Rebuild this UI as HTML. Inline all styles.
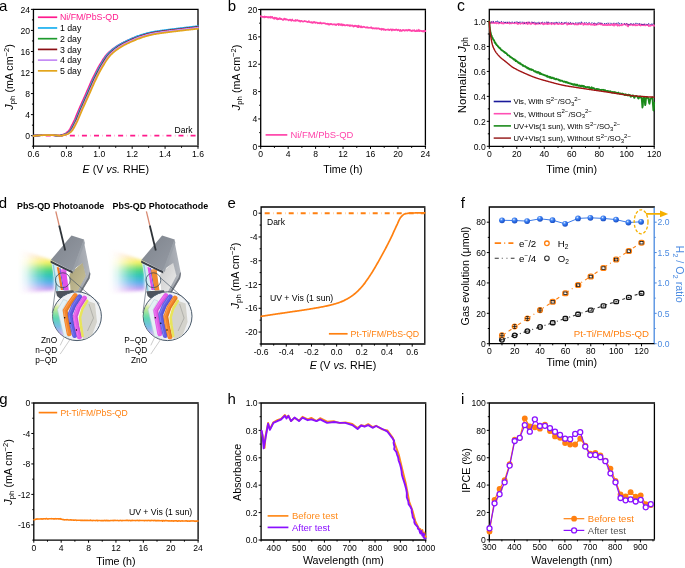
<!DOCTYPE html><html><head><meta charset="utf-8"><style>html,body{margin:0;padding:0;background:#fff;overflow:hidden;}svg{display:block;will-change:transform;}</style></head><body><svg width="685" height="568" viewBox="0 0 685 568"><rect width="685" height="568" fill="#fff"/><text x="-1.0" y="10.9" font-family="Liberation Sans" font-size="15">a</text>
<path d="M32.80 9.37H198.65M33.45 9.37V146.20M32.80 146.20H198.65" stroke="#000" stroke-width="1.3" fill="none"/>
<path d="M198.00 10.02V145.55" stroke="#000" stroke-width="1.3" fill="none"/>
<path d="M33.45 146.20v2.6M66.36 146.20v2.6M99.27 146.20v2.6M132.18 146.20v2.6M165.09 146.20v2.6M198.00 146.20v2.6M49.91 146.20v1.6M82.82 146.20v1.6M115.73 146.20v1.6M148.64 146.20v1.6M181.55 146.20v1.6" stroke="#000" stroke-width="1" fill="none"/>
<text x="33.45" y="156.80" font-family="Liberation Sans" font-size="8.6" text-anchor="middle">0.6</text>
<text x="66.36" y="156.80" font-family="Liberation Sans" font-size="8.6" text-anchor="middle">0.8</text>
<text x="99.27" y="156.80" font-family="Liberation Sans" font-size="8.6" text-anchor="middle">1.0</text>
<text x="132.18" y="156.80" font-family="Liberation Sans" font-size="8.6" text-anchor="middle">1.2</text>
<text x="165.09" y="156.80" font-family="Liberation Sans" font-size="8.6" text-anchor="middle">1.4</text>
<text x="198.00" y="156.80" font-family="Liberation Sans" font-size="8.6" text-anchor="middle">1.6</text>
<path d="M33.45 135.67h-2.5M33.45 114.62h-2.5M33.45 93.57h-2.5M33.45 72.52h-2.5M33.45 51.47h-2.5M33.45 30.42h-2.5M33.45 9.37h-2.5M33.45 146.20h-1.5M33.45 125.15h-1.5M33.45 104.10h-1.5M33.45 83.05h-1.5M33.45 62.00h-1.5M33.45 40.95h-1.5M33.45 19.90h-1.5" stroke="#000" stroke-width="1" fill="none"/>
<text x="29.95" y="138.87" font-family="Liberation Sans" font-size="8.6" text-anchor="end">0</text>
<text x="29.95" y="117.82" font-family="Liberation Sans" font-size="8.6" text-anchor="end">4</text>
<text x="29.95" y="96.77" font-family="Liberation Sans" font-size="8.6" text-anchor="end">8</text>
<text x="29.95" y="75.72" font-family="Liberation Sans" font-size="8.6" text-anchor="end">12</text>
<text x="29.95" y="54.67" font-family="Liberation Sans" font-size="8.6" text-anchor="end">16</text>
<text x="29.95" y="33.62" font-family="Liberation Sans" font-size="8.6" text-anchor="end">20</text>
<text x="29.95" y="12.57" font-family="Liberation Sans" font-size="8.6" text-anchor="end">24</text>
<path d="M34.45 135.67H197.50" stroke="#ff1a8c" stroke-width="1.9" stroke-dasharray="5 3.5 0.3 3.27" stroke-dashoffset="0.8" fill="none"/>
<text x="174.60" y="133.20" font-family="Liberation Sans" font-size="8.5" text-anchor="start" fill="#000" >Dark</text>
<path d="M33.45 135.60 L34.09 135.55 L34.72 135.50 L35.36 135.45 L35.99 135.41 L36.63 135.36 L37.26 135.32 L37.90 135.29 L38.53 135.25 L39.17 135.22 L39.80 135.20 L40.44 135.18 L41.07 135.16 L41.71 135.15 L42.34 135.15 L42.98 135.15 L43.62 135.15 L44.25 135.15 L44.89 135.15 L45.52 135.16 L46.16 135.16 L46.79 135.17 L47.43 135.17 L48.06 135.18 L48.70 135.19 L49.33 135.20 L49.97 135.21 L50.60 135.22 L51.24 135.23 L51.87 135.24 L52.51 135.26 L53.15 135.30 L53.78 135.37 L54.42 135.46 L55.05 135.56 L55.69 135.65 L56.32 135.73 L56.96 135.77 L57.59 135.77 L58.23 135.71 L58.86 135.60 L59.50 135.46 L60.13 135.30 L60.77 135.13 L61.40 134.97 L62.04 134.80 L62.68 134.61 L63.31 134.39 L63.95 134.15 L64.58 133.88 L65.22 133.57 L65.85 133.21 L66.49 132.78 L67.12 132.29 L67.76 131.73 L68.39 131.09 L69.03 130.30 L69.66 129.37 L70.30 128.33 L70.93 127.20 L71.57 126.00 L72.21 124.76 L72.84 123.51 L73.48 122.26 L74.11 120.92 L74.75 119.48 L75.38 117.97 L76.02 116.42 L76.65 114.85 L77.29 113.27 L77.92 111.73 L78.56 110.24 L79.19 108.78 L79.83 107.34 L80.46 105.91 L81.10 104.49 L81.73 103.07 L82.37 101.66 L83.01 100.24 L83.64 98.83 L84.28 97.42 L84.91 95.99 L85.55 94.57 L86.18 93.13 L86.82 91.67 L87.45 90.20 L88.09 88.72 L88.72 87.24 L89.36 85.77 L89.99 84.31 L90.63 82.86 L91.26 81.45 L91.90 80.06 L92.54 78.71 L93.17 77.40 L93.81 76.09 L94.44 74.81 L95.08 73.53 L95.71 72.28 L96.35 71.05 L96.98 69.84 L97.62 68.66 L98.25 67.51 L98.89 66.39 L99.52 65.30 L100.16 64.23 L100.79 63.17 L101.43 62.11 L102.07 61.08 L102.70 60.06 L103.34 59.07 L103.97 58.12 L104.61 57.21 L105.24 56.34 L105.88 55.53 L106.51 54.78 L107.15 54.08 L107.78 53.42 L108.42 52.79 L109.05 52.19 L109.69 51.61 L110.32 51.06 L110.96 50.53 L111.60 50.01 L112.23 49.51 L112.87 49.02 L113.50 48.54 L114.14 48.07 L114.77 47.60 L115.41 47.16 L116.04 46.72 L116.68 46.30 L117.31 45.89 L117.95 45.50 L118.58 45.12 L119.22 44.75 L119.85 44.38 L120.49 44.03 L121.13 43.69 L121.76 43.35 L122.40 43.02 L123.03 42.70 L123.67 42.38 L124.30 42.07 L124.94 41.77 L125.57 41.47 L126.21 41.17 L126.84 40.88 L127.48 40.59 L128.11 40.30 L128.75 40.02 L129.38 39.74 L130.02 39.45 L130.66 39.18 L131.29 38.90 L131.93 38.63 L132.56 38.36 L133.20 38.09 L133.83 37.83 L134.47 37.57 L135.10 37.32 L135.74 37.07 L136.37 36.83 L137.01 36.59 L137.64 36.37 L138.28 36.14 L138.91 35.93 L139.55 35.72 L140.19 35.52 L140.82 35.33 L141.46 35.13 L142.09 34.94 L142.73 34.75 L143.36 34.57 L144.00 34.39 L144.63 34.21 L145.27 34.04 L145.90 33.88 L146.54 33.72 L147.17 33.56 L147.81 33.41 L148.44 33.26 L149.08 33.12 L149.72 32.98 L150.35 32.85 L150.99 32.73 L151.62 32.61 L152.26 32.50 L152.89 32.38 L153.53 32.28 L154.16 32.17 L154.80 32.07 L155.43 31.97 L156.07 31.87 L156.70 31.78 L157.34 31.69 L157.97 31.59 L158.61 31.50 L159.24 31.42 L159.88 31.33 L160.52 31.24 L161.15 31.15 L161.79 31.07 L162.42 30.98 L163.06 30.89 L163.69 30.81 L164.33 30.72 L164.96 30.64 L165.60 30.56 L166.23 30.48 L166.87 30.40 L167.50 30.32 L168.14 30.24 L168.77 30.16 L169.41 30.09 L170.05 30.01 L170.68 29.93 L171.32 29.86 L171.95 29.78 L172.59 29.71 L173.22 29.63 L173.86 29.55 L174.49 29.47 L175.13 29.40 L175.76 29.32 L176.40 29.24 L177.03 29.17 L177.67 29.09 L178.30 29.02 L178.94 28.94 L179.58 28.86 L180.21 28.79 L180.85 28.71 L181.48 28.64 L182.12 28.56 L182.75 28.49 L183.39 28.41 L184.02 28.34 L184.66 28.27 L185.29 28.19 L185.93 28.12 L186.56 28.04 L187.20 27.97 L187.83 27.90 L188.47 27.82 L189.11 27.75 L189.74 27.68 L190.38 27.60 L191.01 27.53 L191.65 27.46 L192.28 27.38 L192.92 27.31 L193.55 27.24 L194.19 27.17 L194.82 27.09 L195.46 27.02 L196.09 26.95 L196.73 26.88 L197.36 26.81 L198.00 26.73" stroke="#ff1a8c" stroke-width="1.7" fill="none" stroke-linejoin="round" stroke-linecap="round" />
<path d="M33.45 135.72 L34.09 135.66 L34.72 135.61 L35.36 135.56 L35.99 135.50 L36.63 135.46 L37.26 135.41 L37.90 135.36 L38.53 135.32 L39.17 135.29 L39.80 135.25 L40.44 135.22 L41.07 135.20 L41.71 135.17 L42.34 135.16 L42.98 135.15 L43.62 135.14 L44.25 135.14 L44.89 135.14 L45.52 135.15 L46.16 135.15 L46.79 135.15 L47.43 135.16 L48.06 135.16 L48.70 135.17 L49.33 135.18 L49.97 135.18 L50.60 135.19 L51.24 135.20 L51.87 135.21 L52.51 135.22 L53.15 135.24 L53.78 135.25 L54.42 135.29 L55.05 135.36 L55.69 135.45 L56.32 135.55 L56.96 135.65 L57.59 135.72 L58.23 135.77 L58.86 135.78 L59.50 135.72 L60.13 135.61 L60.77 135.47 L61.40 135.30 L62.04 135.14 L62.68 134.98 L63.31 134.81 L63.95 134.62 L64.58 134.40 L65.22 134.16 L65.85 133.89 L66.49 133.58 L67.12 133.22 L67.76 132.79 L68.39 132.30 L69.03 131.75 L69.66 131.11 L70.30 130.32 L70.93 129.40 L71.57 128.36 L72.21 127.22 L72.84 126.02 L73.48 124.78 L74.11 123.52 L74.75 122.26 L75.38 120.91 L76.02 119.47 L76.65 117.96 L77.29 116.40 L77.92 114.81 L78.56 113.23 L79.19 111.67 L79.83 110.17 L80.46 108.70 L81.10 107.25 L81.73 105.81 L82.37 104.37 L83.01 102.95 L83.64 101.52 L84.28 100.10 L84.91 98.68 L85.55 97.25 L86.18 95.82 L86.82 94.39 L87.45 92.94 L88.09 91.47 L88.72 89.99 L89.36 88.50 L89.99 87.01 L90.63 85.52 L91.26 84.05 L91.90 82.60 L92.54 81.17 L93.17 79.77 L93.81 78.41 L94.44 77.09 L95.08 75.77 L95.71 74.47 L96.35 73.19 L96.98 71.93 L97.62 70.69 L98.25 69.47 L98.89 68.28 L99.52 67.12 L100.16 65.98 L100.79 64.89 L101.43 63.81 L102.07 62.74 L102.70 61.68 L103.34 60.63 L103.97 59.61 L104.61 58.61 L105.24 57.65 L105.88 56.73 L106.51 55.85 L107.15 55.03 L107.78 54.27 L108.42 53.56 L109.05 52.89 L109.69 52.26 L110.32 51.65 L110.96 51.07 L111.60 50.51 L112.23 49.97 L112.87 49.45 L113.50 48.95 L114.14 48.45 L114.77 47.97 L115.41 47.49 L116.04 47.02 L116.68 46.57 L117.31 46.13 L117.95 45.71 L118.58 45.30 L119.22 44.90 L119.85 44.51 L120.49 44.14 L121.13 43.77 L121.76 43.42 L122.40 43.07 L123.03 42.73 L123.67 42.40 L124.30 42.07 L124.94 41.76 L125.57 41.44 L126.21 41.13 L126.84 40.83 L127.48 40.53 L128.11 40.24 L128.75 39.95 L129.38 39.66 L130.02 39.37 L130.66 39.09 L131.29 38.80 L131.93 38.52 L132.56 38.25 L133.20 37.97 L133.83 37.70 L134.47 37.43 L135.10 37.16 L135.74 36.91 L136.37 36.65 L137.01 36.40 L137.64 36.16 L138.28 35.92 L138.91 35.69 L139.55 35.47 L140.19 35.25 L140.82 35.04 L141.46 34.84 L142.09 34.64 L142.73 34.44 L143.36 34.25 L144.00 34.06 L144.63 33.88 L145.27 33.70 L145.90 33.52 L146.54 33.35 L147.17 33.18 L147.81 33.02 L148.44 32.86 L149.08 32.71 L149.72 32.56 L150.35 32.42 L150.99 32.28 L151.62 32.15 L152.26 32.02 L152.89 31.90 L153.53 31.79 L154.16 31.67 L154.80 31.56 L155.43 31.46 L156.07 31.35 L156.70 31.25 L157.34 31.16 L157.97 31.06 L158.61 30.97 L159.24 30.88 L159.88 30.79 L160.52 30.70 L161.15 30.61 L161.79 30.52 L162.42 30.43 L163.06 30.34 L163.69 30.26 L164.33 30.17 L164.96 30.08 L165.60 30.00 L166.23 29.91 L166.87 29.83 L167.50 29.75 L168.14 29.67 L168.77 29.59 L169.41 29.51 L170.05 29.44 L170.68 29.36 L171.32 29.28 L171.95 29.20 L172.59 29.13 L173.22 29.05 L173.86 28.97 L174.49 28.90 L175.13 28.82 L175.76 28.74 L176.40 28.66 L177.03 28.59 L177.67 28.51 L178.30 28.43 L178.94 28.35 L179.58 28.28 L180.21 28.20 L180.85 28.13 L181.48 28.05 L182.12 27.97 L182.75 27.90 L183.39 27.82 L184.02 27.75 L184.66 27.67 L185.29 27.60 L185.93 27.52 L186.56 27.45 L187.20 27.37 L187.83 27.30 L188.47 27.22 L189.11 27.15 L189.74 27.08 L190.38 27.00 L191.01 26.93 L191.65 26.85 L192.28 26.78 L192.92 26.71 L193.55 26.63 L194.19 26.56 L194.82 26.49 L195.46 26.41 L196.09 26.34 L196.73 26.27 L197.36 26.20 L198.00 26.12" stroke="#1ab0f0" stroke-width="1.7" fill="none" stroke-linejoin="round" stroke-linecap="round" />
<path d="M33.45 135.77 L34.09 135.72 L34.72 135.66 L35.36 135.61 L35.99 135.56 L36.63 135.51 L37.26 135.46 L37.90 135.41 L38.53 135.37 L39.17 135.33 L39.80 135.29 L40.44 135.26 L41.07 135.23 L41.71 135.20 L42.34 135.18 L42.98 135.16 L43.62 135.15 L44.25 135.15 L44.89 135.15 L45.52 135.15 L46.16 135.15 L46.79 135.15 L47.43 135.16 L48.06 135.16 L48.70 135.17 L49.33 135.17 L49.97 135.18 L50.60 135.19 L51.24 135.20 L51.87 135.21 L52.51 135.22 L53.15 135.23 L53.78 135.24 L54.42 135.26 L55.05 135.29 L55.69 135.36 L56.32 135.45 L56.96 135.55 L57.59 135.64 L58.23 135.72 L58.86 135.77 L59.50 135.78 L60.13 135.72 L60.77 135.62 L61.40 135.47 L62.04 135.31 L62.68 135.15 L63.31 135.00 L63.95 134.82 L64.58 134.64 L65.22 134.42 L65.85 134.19 L66.49 133.92 L67.12 133.62 L67.76 133.26 L68.39 132.84 L69.03 132.36 L69.66 131.81 L70.30 131.19 L70.93 130.42 L71.57 129.51 L72.21 128.48 L72.84 127.36 L73.48 126.18 L74.11 124.95 L74.75 123.71 L75.38 122.46 L76.02 121.14 L76.65 119.72 L77.29 118.23 L77.92 116.68 L78.56 115.12 L79.19 113.55 L79.83 112.01 L80.46 110.52 L81.10 109.07 L81.73 107.64 L82.37 106.21 L83.01 104.80 L83.64 103.39 L84.28 101.98 L84.91 100.57 L85.55 99.17 L86.18 97.76 L86.82 96.35 L87.45 94.93 L88.09 93.49 L88.72 92.04 L89.36 90.58 L89.99 89.11 L90.63 87.64 L91.26 86.17 L91.90 84.72 L92.54 83.28 L93.17 81.87 L93.81 80.48 L94.44 79.14 L95.08 77.83 L95.71 76.53 L96.35 75.25 L96.98 73.98 L97.62 72.73 L98.25 71.50 L98.89 70.30 L99.52 69.12 L100.16 67.97 L100.79 66.85 L101.43 65.76 L102.07 64.70 L102.70 63.64 L103.34 62.59 L103.97 61.56 L104.61 60.54 L105.24 59.56 L105.88 58.61 L106.51 57.69 L107.15 56.83 L107.78 56.01 L108.42 55.26 L109.05 54.56 L109.69 53.90 L110.32 53.27 L110.96 52.67 L111.60 52.09 L112.23 51.54 L112.87 51.01 L113.50 50.50 L114.14 50.00 L114.77 49.51 L115.41 49.03 L116.04 48.55 L116.68 48.09 L117.31 47.64 L117.95 47.21 L118.58 46.79 L119.22 46.38 L119.85 45.99 L120.49 45.61 L121.13 45.24 L121.76 44.88 L122.40 44.53 L123.03 44.18 L123.67 43.85 L124.30 43.52 L124.94 43.20 L125.57 42.88 L126.21 42.57 L126.84 42.27 L127.48 41.97 L128.11 41.67 L128.75 41.38 L129.38 41.09 L130.02 40.81 L130.66 40.53 L131.29 40.24 L131.93 39.96 L132.56 39.69 L133.20 39.41 L133.83 39.14 L134.47 38.87 L135.10 38.60 L135.74 38.34 L136.37 38.09 L137.01 37.83 L137.64 37.59 L138.28 37.35 L138.91 37.11 L139.55 36.88 L140.19 36.66 L140.82 36.45 L141.46 36.24 L142.09 36.04 L142.73 35.85 L143.36 35.65 L144.00 35.46 L144.63 35.28 L145.27 35.09 L145.90 34.91 L146.54 34.74 L147.17 34.57 L147.81 34.40 L148.44 34.24 L149.08 34.08 L149.72 33.93 L150.35 33.79 L150.99 33.64 L151.62 33.51 L152.26 33.38 L152.89 33.26 L153.53 33.14 L154.16 33.02 L154.80 32.91 L155.43 32.80 L156.07 32.70 L156.70 32.60 L157.34 32.50 L157.97 32.40 L158.61 32.31 L159.24 32.21 L159.88 32.12 L160.52 32.03 L161.15 31.94 L161.79 31.86 L162.42 31.77 L163.06 31.68 L163.69 31.60 L164.33 31.51 L164.96 31.42 L165.60 31.34 L166.23 31.25 L166.87 31.17 L167.50 31.09 L168.14 31.01 L168.77 30.93 L169.41 30.85 L170.05 30.78 L170.68 30.70 L171.32 30.62 L171.95 30.55 L172.59 30.47 L173.22 30.39 L173.86 30.32 L174.49 30.24 L175.13 30.16 L175.76 30.09 L176.40 30.01 L177.03 29.93 L177.67 29.86 L178.30 29.78 L178.94 29.71 L179.58 29.63 L180.21 29.55 L180.85 29.48 L181.48 29.40 L182.12 29.33 L182.75 29.25 L183.39 29.18 L184.02 29.11 L184.66 29.03 L185.29 28.96 L185.93 28.88 L186.56 28.81 L187.20 28.73 L187.83 28.66 L188.47 28.59 L189.11 28.51 L189.74 28.44 L190.38 28.37 L191.01 28.29 L191.65 28.22 L192.28 28.15 L192.92 28.08 L193.55 28.00 L194.19 27.93 L194.82 27.86 L195.46 27.79 L196.09 27.71 L196.73 27.64 L197.36 27.57 L198.00 27.50" stroke="#1e9a2e" stroke-width="1.7" fill="none" stroke-linejoin="round" stroke-linecap="round" />
<path d="M33.45 135.80 L34.09 135.75 L34.72 135.69 L35.36 135.64 L35.99 135.59 L36.63 135.53 L37.26 135.48 L37.90 135.44 L38.53 135.39 L39.17 135.35 L39.80 135.31 L40.44 135.27 L41.07 135.24 L41.71 135.21 L42.34 135.19 L42.98 135.17 L43.62 135.16 L44.25 135.15 L44.89 135.15 L45.52 135.15 L46.16 135.15 L46.79 135.15 L47.43 135.15 L48.06 135.16 L48.70 135.16 L49.33 135.17 L49.97 135.17 L50.60 135.18 L51.24 135.19 L51.87 135.20 L52.51 135.21 L53.15 135.22 L53.78 135.23 L54.42 135.25 L55.05 135.27 L55.69 135.32 L56.32 135.40 L56.96 135.50 L57.59 135.60 L58.23 135.68 L58.86 135.75 L59.50 135.78 L60.13 135.76 L60.77 135.68 L61.40 135.55 L62.04 135.40 L62.68 135.23 L63.31 135.07 L63.95 134.91 L64.58 134.73 L65.22 134.53 L65.85 134.31 L66.49 134.06 L67.12 133.77 L67.76 133.44 L68.39 133.05 L69.03 132.60 L69.66 132.09 L70.30 131.51 L70.93 130.81 L71.57 129.97 L72.21 128.99 L72.84 127.91 L73.48 126.76 L74.11 125.54 L74.75 124.30 L75.38 123.04 L76.02 121.77 L76.65 120.39 L77.29 118.92 L77.92 117.40 L78.56 115.83 L79.19 114.26 L79.83 112.69 L80.46 111.16 L81.10 109.69 L81.73 108.24 L82.37 106.81 L83.01 105.38 L83.64 103.96 L84.28 102.54 L84.91 101.13 L85.55 99.72 L86.18 98.30 L86.82 96.88 L87.45 95.46 L88.09 94.03 L88.72 92.58 L89.36 91.12 L89.99 89.64 L90.63 88.16 L91.26 86.69 L91.90 85.22 L92.54 83.76 L93.17 82.33 L93.81 80.92 L94.44 79.55 L95.08 78.22 L95.71 76.91 L96.35 75.61 L96.98 74.33 L97.62 73.06 L98.25 71.82 L98.89 70.60 L99.52 69.40 L100.16 68.23 L100.79 67.09 L101.43 65.98 L102.07 64.90 L102.70 63.83 L103.34 62.77 L103.97 61.72 L104.61 60.69 L105.24 59.69 L105.88 58.71 L106.51 57.77 L107.15 56.88 L107.78 56.03 L108.42 55.24 L109.05 54.51 L109.69 53.83 L110.32 53.18 L110.96 52.56 L111.60 51.97 L112.23 51.40 L112.87 50.86 L113.50 50.33 L114.14 49.83 L114.77 49.33 L115.41 48.84 L116.04 48.36 L116.68 47.89 L117.31 47.43 L117.95 46.99 L118.58 46.56 L119.22 46.15 L119.85 45.74 L120.49 45.35 L121.13 44.98 L121.76 44.61 L122.40 44.25 L123.03 43.90 L123.67 43.56 L124.30 43.23 L124.94 42.90 L125.57 42.58 L126.21 42.27 L126.84 41.96 L127.48 41.65 L128.11 41.35 L128.75 41.06 L129.38 40.77 L130.02 40.48 L130.66 40.20 L131.29 39.91 L131.93 39.63 L132.56 39.35 L133.20 39.07 L133.83 38.80 L134.47 38.52 L135.10 38.26 L135.74 37.99 L136.37 37.73 L137.01 37.47 L137.64 37.22 L138.28 36.98 L138.91 36.74 L139.55 36.51 L140.19 36.28 L140.82 36.06 L141.46 35.85 L142.09 35.65 L142.73 35.45 L143.36 35.25 L144.00 35.06 L144.63 34.87 L145.27 34.68 L145.90 34.50 L146.54 34.32 L147.17 34.15 L147.81 33.98 L148.44 33.82 L149.08 33.66 L149.72 33.50 L150.35 33.35 L150.99 33.21 L151.62 33.07 L152.26 32.93 L152.89 32.81 L153.53 32.69 L154.16 32.57 L154.80 32.45 L155.43 32.34 L156.07 32.24 L156.70 32.13 L157.34 32.03 L157.97 31.93 L158.61 31.84 L159.24 31.74 L159.88 31.65 L160.52 31.56 L161.15 31.47 L161.79 31.38 L162.42 31.30 L163.06 31.21 L163.69 31.12 L164.33 31.03 L164.96 30.95 L165.60 30.86 L166.23 30.78 L166.87 30.69 L167.50 30.61 L168.14 30.53 L168.77 30.45 L169.41 30.37 L170.05 30.29 L170.68 30.21 L171.32 30.14 L171.95 30.06 L172.59 29.98 L173.22 29.91 L173.86 29.83 L174.49 29.75 L175.13 29.68 L175.76 29.60 L176.40 29.52 L177.03 29.45 L177.67 29.37 L178.30 29.29 L178.94 29.22 L179.58 29.14 L180.21 29.06 L180.85 28.99 L181.48 28.91 L182.12 28.84 L182.75 28.76 L183.39 28.69 L184.02 28.61 L184.66 28.54 L185.29 28.46 L185.93 28.39 L186.56 28.31 L187.20 28.24 L187.83 28.16 L188.47 28.09 L189.11 28.02 L189.74 27.94 L190.38 27.87 L191.01 27.79 L191.65 27.72 L192.28 27.65 L192.92 27.57 L193.55 27.50 L194.19 27.43 L194.82 27.36 L195.46 27.28 L196.09 27.21 L196.73 27.14 L197.36 27.07 L198.00 26.99" stroke="#8b0f14" stroke-width="1.7" fill="none" stroke-linejoin="round" stroke-linecap="round" />
<path d="M33.45 135.83 L34.09 135.78 L34.72 135.72 L35.36 135.67 L35.99 135.61 L36.63 135.56 L37.26 135.51 L37.90 135.46 L38.53 135.41 L39.17 135.37 L39.80 135.33 L40.44 135.29 L41.07 135.26 L41.71 135.23 L42.34 135.20 L42.98 135.18 L43.62 135.16 L44.25 135.15 L44.89 135.15 L45.52 135.15 L46.16 135.15 L46.79 135.15 L47.43 135.15 L48.06 135.16 L48.70 135.16 L49.33 135.17 L49.97 135.17 L50.60 135.18 L51.24 135.19 L51.87 135.20 L52.51 135.21 L53.15 135.22 L53.78 135.23 L54.42 135.24 L55.05 135.25 L55.69 135.29 L56.32 135.36 L56.96 135.45 L57.59 135.55 L58.23 135.64 L58.86 135.72 L59.50 135.77 L60.13 135.78 L60.77 135.72 L61.40 135.62 L62.04 135.48 L62.68 135.32 L63.31 135.16 L63.95 135.00 L64.58 134.83 L65.22 134.64 L65.85 134.43 L66.49 134.20 L67.12 133.93 L67.76 133.63 L68.39 133.28 L69.03 132.86 L69.66 132.38 L70.30 131.83 L70.93 131.21 L71.57 130.45 L72.21 129.54 L72.84 128.52 L73.48 127.41 L74.11 126.22 L74.75 125.00 L75.38 123.75 L76.02 122.51 L76.65 121.19 L77.29 119.77 L77.92 118.28 L78.56 116.74 L79.19 115.18 L79.83 113.61 L80.46 112.07 L81.10 110.57 L81.73 109.13 L82.37 107.69 L83.01 106.27 L83.64 104.85 L84.28 103.44 L84.91 102.03 L85.55 100.62 L86.18 99.22 L86.82 97.81 L87.45 96.40 L88.09 94.98 L88.72 93.55 L89.36 92.10 L89.99 90.63 L90.63 89.16 L91.26 87.69 L91.90 86.22 L92.54 84.77 L93.17 83.33 L93.81 81.92 L94.44 80.53 L95.08 79.19 L95.71 77.87 L96.35 76.58 L96.98 75.29 L97.62 74.02 L98.25 72.77 L98.89 71.55 L99.52 70.34 L100.16 69.16 L100.79 68.01 L101.43 66.89 L102.07 65.80 L102.70 64.74 L103.34 63.68 L103.97 62.63 L104.61 61.59 L105.24 60.58 L105.88 59.59 L106.51 58.64 L107.15 57.73 L107.78 56.86 L108.42 56.04 L109.05 55.28 L109.69 54.58 L110.32 53.92 L110.96 53.29 L111.60 52.69 L112.23 52.11 L112.87 51.56 L113.50 51.03 L114.14 50.51 L114.77 50.01 L115.41 49.52 L116.04 49.04 L116.68 48.57 L117.31 48.11 L117.95 47.66 L118.58 47.23 L119.22 46.80 L119.85 46.40 L120.49 46.00 L121.13 45.62 L121.76 45.25 L122.40 44.89 L123.03 44.54 L123.67 44.19 L124.30 43.86 L124.94 43.53 L125.57 43.21 L126.21 42.89 L126.84 42.58 L127.48 42.28 L128.11 41.98 L128.75 41.68 L129.38 41.39 L130.02 41.10 L130.66 40.82 L131.29 40.54 L131.93 40.25 L132.56 39.97 L133.20 39.70 L133.83 39.42 L134.47 39.15 L135.10 38.88 L135.74 38.61 L136.37 38.35 L137.01 38.09 L137.64 37.84 L138.28 37.60 L138.91 37.36 L139.55 37.12 L140.19 36.89 L140.82 36.67 L141.46 36.46 L142.09 36.25 L142.73 36.05 L143.36 35.85 L144.00 35.66 L144.63 35.47 L145.27 35.28 L145.90 35.10 L146.54 34.92 L147.17 34.74 L147.81 34.57 L148.44 34.41 L149.08 34.25 L149.72 34.09 L150.35 33.94 L150.99 33.79 L151.62 33.65 L152.26 33.51 L152.89 33.38 L153.53 33.26 L154.16 33.14 L154.80 33.03 L155.43 32.91 L156.07 32.81 L156.70 32.70 L157.34 32.60 L157.97 32.50 L158.61 32.40 L159.24 32.31 L159.88 32.22 L160.52 32.13 L161.15 32.04 L161.79 31.95 L162.42 31.86 L163.06 31.77 L163.69 31.69 L164.33 31.60 L164.96 31.51 L165.60 31.43 L166.23 31.34 L166.87 31.26 L167.50 31.17 L168.14 31.09 L168.77 31.01 L169.41 30.93 L170.05 30.86 L170.68 30.78 L171.32 30.70 L171.95 30.62 L172.59 30.55 L173.22 30.47 L173.86 30.40 L174.49 30.32 L175.13 30.24 L175.76 30.17 L176.40 30.09 L177.03 30.01 L177.67 29.94 L178.30 29.86 L178.94 29.78 L179.58 29.71 L180.21 29.63 L180.85 29.56 L181.48 29.48 L182.12 29.41 L182.75 29.33 L183.39 29.26 L184.02 29.18 L184.66 29.11 L185.29 29.03 L185.93 28.96 L186.56 28.88 L187.20 28.81 L187.83 28.74 L188.47 28.66 L189.11 28.59 L189.74 28.52 L190.38 28.44 L191.01 28.37 L191.65 28.30 L192.28 28.22 L192.92 28.15 L193.55 28.08 L194.19 28.01 L194.82 27.93 L195.46 27.86 L196.09 27.79 L196.73 27.72 L197.36 27.64 L198.00 27.57" stroke="#c58cf5" stroke-width="1.7" fill="none" stroke-linejoin="round" stroke-linecap="round" />
<path d="M33.45 135.89 L34.09 135.83 L34.72 135.78 L35.36 135.72 L35.99 135.67 L36.63 135.62 L37.26 135.56 L37.90 135.51 L38.53 135.47 L39.17 135.42 L39.80 135.38 L40.44 135.33 L41.07 135.30 L41.71 135.26 L42.34 135.23 L42.98 135.21 L43.62 135.19 L44.25 135.17 L44.89 135.16 L45.52 135.15 L46.16 135.15 L46.79 135.15 L47.43 135.16 L48.06 135.16 L48.70 135.16 L49.33 135.17 L49.97 135.17 L50.60 135.18 L51.24 135.19 L51.87 135.19 L52.51 135.20 L53.15 135.21 L53.78 135.22 L54.42 135.23 L55.05 135.25 L55.69 135.26 L56.32 135.29 L56.96 135.36 L57.59 135.45 L58.23 135.55 L58.86 135.64 L59.50 135.72 L60.13 135.77 L60.77 135.78 L61.40 135.73 L62.04 135.62 L62.68 135.49 L63.31 135.33 L63.95 135.17 L64.58 135.01 L65.22 134.85 L65.85 134.66 L66.49 134.45 L67.12 134.22 L67.76 133.96 L68.39 133.67 L69.03 133.31 L69.66 132.90 L70.30 132.43 L70.93 131.89 L71.57 131.28 L72.21 130.53 L72.84 129.64 L73.48 128.63 L74.11 127.53 L74.75 126.36 L75.38 125.15 L76.02 123.92 L76.65 122.68 L77.29 121.38 L77.92 119.98 L78.56 118.51 L79.19 116.99 L79.83 115.44 L80.46 113.89 L81.10 112.36 L81.73 110.88 L82.37 109.44 L83.01 108.02 L83.64 106.61 L84.28 105.21 L84.91 103.81 L85.55 102.42 L86.18 101.02 L86.82 99.63 L87.45 98.24 L88.09 96.84 L88.72 95.43 L89.36 94.02 L89.99 92.58 L90.63 91.14 L91.26 89.68 L91.90 88.22 L92.54 86.77 L93.17 85.33 L93.81 83.91 L94.44 82.51 L95.08 81.13 L95.71 79.80 L96.35 78.50 L96.98 77.21 L97.62 75.94 L98.25 74.69 L98.89 73.45 L99.52 72.23 L100.16 71.04 L100.79 69.87 L101.43 68.73 L102.07 67.62 L102.70 66.54 L103.34 65.49 L103.97 64.44 L104.61 63.40 L105.24 62.37 L105.88 61.37 L106.51 60.39 L107.15 59.44 L107.78 58.54 L108.42 57.68 L109.05 56.87 L109.69 56.11 L110.32 55.42 L110.96 54.76 L111.60 54.13 L112.23 53.54 L112.87 52.97 L113.50 52.42 L114.14 51.89 L114.77 51.38 L115.41 50.89 L116.04 50.40 L116.68 49.93 L117.31 49.46 L117.95 49.00 L118.58 48.56 L119.22 48.12 L119.85 47.71 L120.49 47.30 L121.13 46.91 L121.76 46.53 L122.40 46.17 L123.03 45.81 L123.67 45.46 L124.30 45.12 L124.94 44.79 L125.57 44.46 L126.21 44.14 L126.84 43.83 L127.48 43.52 L128.11 43.22 L128.75 42.92 L129.38 42.63 L130.02 42.34 L130.66 42.06 L131.29 41.78 L131.93 41.50 L132.56 41.22 L133.20 40.94 L133.83 40.67 L134.47 40.39 L135.10 40.12 L135.74 39.86 L136.37 39.59 L137.01 39.33 L137.64 39.08 L138.28 38.83 L138.91 38.59 L139.55 38.35 L140.19 38.11 L140.82 37.89 L141.46 37.67 L142.09 37.46 L142.73 37.25 L143.36 37.05 L144.00 36.86 L144.63 36.67 L145.27 36.48 L145.90 36.29 L146.54 36.11 L147.17 35.93 L147.81 35.76 L148.44 35.59 L149.08 35.43 L149.72 35.27 L150.35 35.11 L150.99 34.96 L151.62 34.81 L152.26 34.67 L152.89 34.54 L153.53 34.41 L154.16 34.29 L154.80 34.17 L155.43 34.06 L156.07 33.95 L156.70 33.84 L157.34 33.73 L157.97 33.63 L158.61 33.54 L159.24 33.44 L159.88 33.35 L160.52 33.25 L161.15 33.16 L161.79 33.08 L162.42 32.99 L163.06 32.90 L163.69 32.81 L164.33 32.73 L164.96 32.64 L165.60 32.56 L166.23 32.47 L166.87 32.39 L167.50 32.30 L168.14 32.22 L168.77 32.14 L169.41 32.06 L170.05 31.98 L170.68 31.91 L171.32 31.83 L171.95 31.75 L172.59 31.68 L173.22 31.60 L173.86 31.53 L174.49 31.45 L175.13 31.38 L175.76 31.30 L176.40 31.23 L177.03 31.15 L177.67 31.07 L178.30 31.00 L178.94 30.92 L179.58 30.85 L180.21 30.77 L180.85 30.70 L181.48 30.62 L182.12 30.55 L182.75 30.47 L183.39 30.40 L184.02 30.32 L184.66 30.25 L185.29 30.18 L185.93 30.10 L186.56 30.03 L187.20 29.96 L187.83 29.88 L188.47 29.81 L189.11 29.74 L189.74 29.66 L190.38 29.59 L191.01 29.52 L191.65 29.45 L192.28 29.37 L192.92 29.30 L193.55 29.23 L194.19 29.16 L194.82 29.08 L195.46 29.01 L196.09 28.94 L196.73 28.87 L197.36 28.80 L198.00 28.73" stroke="#e3a51c" stroke-width="1.7" fill="none" stroke-linejoin="round" stroke-linecap="round" />
<path d="M37.9 17.25H57.2" stroke="#ff1a8c" stroke-width="1.7"/>
<text x="59.90" y="20.35" font-family="Liberation Sans" font-size="8.8" text-anchor="start" fill="#ff1a8c" >Ni/FM/PbS-QD</text>
<path d="M37.9 27.97H57.2" stroke="#1ab0f0" stroke-width="1.7"/>
<text x="59.90" y="31.07" font-family="Liberation Sans" font-size="8.8" text-anchor="start" fill="#000" >1 day</text>
<path d="M37.9 38.69H57.2" stroke="#1e9a2e" stroke-width="1.7"/>
<text x="59.90" y="41.79" font-family="Liberation Sans" font-size="8.8" text-anchor="start" fill="#000" >2 day</text>
<path d="M37.9 49.41H57.2" stroke="#8b0f14" stroke-width="1.7"/>
<text x="59.90" y="52.51" font-family="Liberation Sans" font-size="8.8" text-anchor="start" fill="#000" >3 day</text>
<path d="M37.9 60.13H57.2" stroke="#c58cf5" stroke-width="1.7"/>
<text x="59.90" y="63.23" font-family="Liberation Sans" font-size="8.8" text-anchor="start" fill="#000" >4 day</text>
<path d="M37.9 70.85H57.2" stroke="#e3a51c" stroke-width="1.7"/>
<text x="59.90" y="73.95" font-family="Liberation Sans" font-size="8.8" text-anchor="start" fill="#000" >5 day</text>
<text x="115.80" y="172.80" font-family="Liberation Sans" font-size="10.7" text-anchor="middle" fill="#000" ><tspan font-style="italic">E</tspan> (V <tspan font-style="italic">vs.</tspan> RHE)</text>
<text transform="translate(12.60 77.00) rotate(-90)" x="0" y="0" font-family="Liberation Sans" font-size="10.7" text-anchor="middle" fill="#000"><tspan font-style="italic">J</tspan><tspan font-size="7.8" dx="0.2" dy="2.1">ph</tspan><tspan dy="-2.1"> (mA cm</tspan><tspan font-size="7.6" dy="-4">−2</tspan><tspan dy="4">)</tspan></text>
<text x="227.7" y="11.2" font-family="Liberation Sans" font-size="15">b</text>
<path d="M260.05 9.50H426.05M260.70 9.50V146.30M260.05 146.30H426.05" stroke="#000" stroke-width="1.3" fill="none"/>
<path d="M425.40 10.15V145.65" stroke="#000" stroke-width="1.3" fill="none"/>
<path d="M260.70 146.30v2.6M288.15 146.30v2.6M315.60 146.30v2.6M343.05 146.30v2.6M370.50 146.30v2.6M397.95 146.30v2.6M425.40 146.30v2.6M274.43 146.30v1.6M301.88 146.30v1.6M329.32 146.30v1.6M356.77 146.30v1.6M384.22 146.30v1.6M411.67 146.30v1.6" stroke="#000" stroke-width="1" fill="none"/>
<text x="260.70" y="156.90" font-family="Liberation Sans" font-size="8.6" text-anchor="middle">0</text>
<text x="288.15" y="156.90" font-family="Liberation Sans" font-size="8.6" text-anchor="middle">4</text>
<text x="315.60" y="156.90" font-family="Liberation Sans" font-size="8.6" text-anchor="middle">8</text>
<text x="343.05" y="156.90" font-family="Liberation Sans" font-size="8.6" text-anchor="middle">12</text>
<text x="370.50" y="156.90" font-family="Liberation Sans" font-size="8.6" text-anchor="middle">16</text>
<text x="397.95" y="156.90" font-family="Liberation Sans" font-size="8.6" text-anchor="middle">20</text>
<text x="425.40" y="156.90" font-family="Liberation Sans" font-size="8.6" text-anchor="middle">24</text>
<path d="M260.70 146.30h-2.5M260.70 118.94h-2.5M260.70 91.58h-2.5M260.70 64.22h-2.5M260.70 36.86h-2.5M260.70 9.50h-2.5M260.70 132.62h-1.5M260.70 105.26h-1.5M260.70 77.90h-1.5M260.70 50.54h-1.5M260.70 23.18h-1.5" stroke="#000" stroke-width="1" fill="none"/>
<text x="257.20" y="149.50" font-family="Liberation Sans" font-size="8.6" text-anchor="end">0</text>
<text x="257.20" y="122.14" font-family="Liberation Sans" font-size="8.6" text-anchor="end">4</text>
<text x="257.20" y="94.78" font-family="Liberation Sans" font-size="8.6" text-anchor="end">8</text>
<text x="257.20" y="67.42" font-family="Liberation Sans" font-size="8.6" text-anchor="end">12</text>
<text x="257.20" y="40.06" font-family="Liberation Sans" font-size="8.6" text-anchor="end">16</text>
<text x="257.20" y="12.70" font-family="Liberation Sans" font-size="8.6" text-anchor="end">20</text>
<path d="M260.70 15.99 L261.20 16.88 L261.70 16.69 L262.20 16.55 L262.70 17.06 L263.20 16.76 L263.70 16.78 L264.20 17.53 L264.70 16.42 L265.21 16.62 L265.71 17.16 L266.21 17.00 L266.71 16.76 L267.21 17.11 L267.71 17.13 L268.21 17.67 L268.71 16.89 L269.21 17.12 L269.71 17.12 L270.21 17.92 L270.71 16.69 L271.21 17.37 L271.71 17.67 L272.21 16.76 L272.71 17.69 L273.22 18.35 L273.72 18.01 L274.22 18.87 L274.72 17.59 L275.22 18.28 L275.72 18.50 L276.22 17.85 L276.72 19.05 L277.22 18.24 L277.72 19.39 L278.22 18.90 L278.72 19.21 L279.22 18.19 L279.72 18.14 L280.22 19.07 L280.72 18.66 L281.22 19.14 L281.73 18.89 L282.23 19.49 L282.73 19.94 L283.23 20.04 L283.73 19.19 L284.23 18.48 L284.73 19.34 L285.23 19.72 L285.73 18.77 L286.23 19.51 L286.73 19.61 L287.23 19.60 L287.73 19.80 L288.23 19.92 L288.73 20.43 L289.23 19.68 L289.74 19.97 L290.24 19.49 L290.74 20.18 L291.24 20.86 L291.74 20.16 L292.24 19.47 L292.74 20.38 L293.24 20.63 L293.74 20.81 L294.24 20.80 L294.74 20.54 L295.24 20.95 L295.74 19.91 L296.24 20.69 L296.74 20.58 L297.24 20.09 L297.74 20.12 L298.25 20.88 L298.75 20.71 L299.25 20.60 L299.75 21.03 L300.25 21.74 L300.75 20.80 L301.25 20.75 L301.75 21.01 L302.25 21.61 L302.75 21.37 L303.25 21.59 L303.75 21.53 L304.25 20.93 L304.75 20.89 L305.25 21.30 L305.75 21.41 L306.26 21.42 L306.76 21.76 L307.26 21.84 L307.76 22.14 L308.26 21.94 L308.76 21.05 L309.26 21.68 L309.76 22.23 L310.26 22.34 L310.76 22.56 L311.26 22.10 L311.76 22.15 L312.26 22.96 L312.76 22.22 L313.26 22.71 L313.76 21.94 L314.27 22.52 L314.77 21.93 L315.27 22.87 L315.77 22.86 L316.27 22.66 L316.77 22.40 L317.27 22.65 L317.77 23.44 L318.27 22.91 L318.77 23.02 L319.27 23.25 L319.77 23.39 L320.27 22.45 L320.77 23.37 L321.27 23.60 L321.77 23.04 L322.27 23.29 L322.78 23.41 L323.28 23.10 L323.78 23.26 L324.28 23.35 L324.78 23.14 L325.28 23.46 L325.78 23.87 L326.28 23.80 L326.78 23.90 L327.28 23.64 L327.78 24.21 L328.28 24.55 L328.78 23.80 L329.28 24.42 L329.78 24.71 L330.28 23.79 L330.79 24.27 L331.29 23.81 L331.79 24.26 L332.29 24.54 L332.79 24.62 L333.29 24.36 L333.79 24.30 L334.29 24.56 L334.79 24.37 L335.29 24.92 L335.79 24.32 L336.29 25.10 L336.79 24.48 L337.29 24.15 L337.79 24.02 L338.29 23.81 L338.79 25.19 L339.30 24.27 L339.80 24.13 L340.30 24.26 L340.80 25.08 L341.30 24.57 L341.80 24.02 L342.30 25.44 L342.80 24.67 L343.30 24.46 L343.80 25.24 L344.30 24.76 L344.80 25.48 L345.30 25.42 L345.80 25.47 L346.30 25.10 L346.80 25.27 L347.31 24.88 L347.81 25.71 L348.31 25.42 L348.81 25.02 L349.31 25.24 L349.81 26.06 L350.31 25.29 L350.81 25.81 L351.31 25.51 L351.81 25.59 L352.31 25.27 L352.81 25.77 L353.31 26.63 L353.81 26.48 L354.31 25.67 L354.81 26.13 L355.31 25.61 L355.82 26.02 L356.32 26.49 L356.82 25.79 L357.32 26.62 L357.82 27.18 L358.32 25.55 L358.82 27.23 L359.32 26.24 L359.82 26.17 L360.32 26.55 L360.82 27.36 L361.32 26.31 L361.82 27.37 L362.32 27.39 L362.82 27.05 L363.32 26.63 L363.83 26.89 L364.33 26.74 L364.83 27.32 L365.33 27.27 L365.83 27.73 L366.33 27.45 L366.83 27.14 L367.33 27.57 L367.83 27.31 L368.33 27.81 L368.83 27.88 L369.33 27.68 L369.83 27.84 L370.33 27.58 L370.83 27.81 L371.33 27.23 L371.83 28.10 L372.34 28.16 L372.84 28.56 L373.34 28.18 L373.84 27.97 L374.34 28.61 L374.84 28.39 L375.34 28.13 L375.84 28.54 L376.34 28.75 L376.84 28.20 L377.34 28.61 L377.84 28.54 L378.34 28.28 L378.84 28.35 L379.34 29.02 L379.84 29.15 L380.35 28.88 L380.85 29.11 L381.35 29.89 L381.85 28.64 L382.35 29.21 L382.85 28.97 L383.35 29.81 L383.85 28.85 L384.35 29.67 L384.85 29.52 L385.35 30.10 L385.85 29.63 L386.35 29.69 L386.85 29.71 L387.35 29.48 L387.85 29.66 L388.36 29.31 L388.86 29.93 L389.36 30.16 L389.86 29.78 L390.36 29.53 L390.86 29.30 L391.36 29.49 L391.86 30.56 L392.36 29.70 L392.86 29.27 L393.36 29.86 L393.86 30.11 L394.36 29.78 L394.86 30.13 L395.36 29.68 L395.86 29.96 L396.36 29.40 L396.87 29.78 L397.37 30.30 L397.87 29.77 L398.37 29.65 L398.87 30.29 L399.37 30.25 L399.87 31.04 L400.37 29.74 L400.87 30.37 L401.37 31.02 L401.87 30.90 L402.37 30.28 L402.87 29.90 L403.37 30.27 L403.87 30.06 L404.37 30.73 L404.88 30.84 L405.38 29.95 L405.88 30.13 L406.38 30.37 L406.88 29.85 L407.38 30.79 L407.88 30.59 L408.38 30.02 L408.88 29.70 L409.38 30.48 L409.88 29.81 L410.38 30.77 L410.88 30.40 L411.38 30.63 L411.88 31.23 L412.38 30.49 L412.88 30.23 L413.39 30.69 L413.89 30.68 L414.39 30.10 L414.89 31.20 L415.39 31.32 L415.89 30.99 L416.39 31.23 L416.89 30.20 L417.39 30.65 L417.89 31.15 L418.39 31.06 L418.89 29.65 L419.39 31.09 L419.89 31.17 L420.39 30.75 L420.89 30.63 L421.40 30.82 L421.90 31.30 L422.40 31.42 L422.90 30.72 L423.40 31.00 L423.90 31.67 L424.40 30.53 L424.90 30.71 L425.40 31.14" stroke="#ff44aa" stroke-width="1.6" fill="none" stroke-linejoin="round" stroke-linecap="round" />
<path d="M265.6 134.9H287.3" stroke="#ff44aa" stroke-width="1.7"/>
<text x="290.40" y="138.20" font-family="Liberation Sans" font-size="9.45" text-anchor="start" fill="#ff44aa" >Ni/FM/PbS-QD</text>
<text x="343.00" y="172.80" font-family="Liberation Sans" font-size="10.7" text-anchor="middle" fill="#000" >Time (h)</text>
<text transform="translate(240.00 77.50) rotate(-90)" x="0" y="0" font-family="Liberation Sans" font-size="10.7" text-anchor="middle" fill="#000"><tspan font-style="italic">J</tspan><tspan font-size="7.8" dx="0.2" dy="2.1">ph</tspan><tspan dy="-2.1"> (mA cm</tspan><tspan font-size="7.6" dy="-4">−2</tspan><tspan dy="4">)</tspan></text>
<text x="457.0" y="10.9" font-family="Liberation Sans" font-size="15.8">c</text>
<path d="M488.65 9.50H654.85M489.30 9.50V146.30M488.65 146.30H654.85" stroke="#000" stroke-width="1.3" fill="none"/>
<path d="M654.20 10.15V145.65" stroke="#000" stroke-width="1.3" fill="none"/>
<path d="M489.30 146.30v2.6M516.78 146.30v2.6M544.27 146.30v2.6M571.75 146.30v2.6M599.23 146.30v2.6M626.72 146.30v2.6M654.20 146.30v2.6M503.04 146.30v1.6M530.52 146.30v1.6M558.01 146.30v1.6M585.49 146.30v1.6M612.98 146.30v1.6M640.46 146.30v1.6" stroke="#000" stroke-width="1" fill="none"/>
<text x="489.30" y="156.90" font-family="Liberation Sans" font-size="8.6" text-anchor="middle">0</text>
<text x="516.78" y="156.90" font-family="Liberation Sans" font-size="8.6" text-anchor="middle">20</text>
<text x="544.27" y="156.90" font-family="Liberation Sans" font-size="8.6" text-anchor="middle">40</text>
<text x="571.75" y="156.90" font-family="Liberation Sans" font-size="8.6" text-anchor="middle">60</text>
<text x="599.23" y="156.90" font-family="Liberation Sans" font-size="8.6" text-anchor="middle">80</text>
<text x="626.72" y="156.90" font-family="Liberation Sans" font-size="8.6" text-anchor="middle">100</text>
<text x="654.20" y="156.90" font-family="Liberation Sans" font-size="8.6" text-anchor="middle">120</text>
<path d="M489.30 146.30h-2.5M489.30 121.34h-2.5M489.30 96.38h-2.5M489.30 71.42h-2.5M489.30 46.46h-2.5M489.30 21.51h-2.5M489.30 133.82h-1.5M489.30 108.86h-1.5M489.30 83.90h-1.5M489.30 58.94h-1.5M489.30 33.98h-1.5" stroke="#000" stroke-width="1" fill="none"/>
<text x="485.80" y="149.50" font-family="Liberation Sans" font-size="8.6" text-anchor="end">0.0</text>
<text x="485.80" y="124.54" font-family="Liberation Sans" font-size="8.6" text-anchor="end">0.2</text>
<text x="485.80" y="99.58" font-family="Liberation Sans" font-size="8.6" text-anchor="end">0.4</text>
<text x="485.80" y="74.62" font-family="Liberation Sans" font-size="8.6" text-anchor="end">0.6</text>
<text x="485.80" y="49.66" font-family="Liberation Sans" font-size="8.6" text-anchor="end">0.8</text>
<text x="485.80" y="24.71" font-family="Liberation Sans" font-size="8.6" text-anchor="end">1.0</text>
<path d="M489.30 21.69 L489.69 22.68 L490.09 22.90 L490.48 23.31 L490.87 23.28 L491.27 22.04 L491.66 22.92 L492.05 23.06 L492.45 23.06 L492.84 22.02 L493.24 23.11 L493.63 22.51 L494.02 22.69 L494.42 22.71 L494.81 23.27 L495.20 22.51 L495.60 22.05 L495.99 22.88 L496.38 23.32 L496.78 23.51 L497.17 22.78 L497.56 23.01 L497.96 22.94 L498.35 22.88 L498.75 23.63 L499.14 22.51 L499.53 22.79 L499.93 22.95 L500.32 22.80 L500.71 22.46 L501.11 22.91 L501.50 23.36 L501.89 22.36 L502.29 23.17 L502.68 23.32 L503.07 23.74 L503.47 22.96 L503.86 23.50 L504.26 23.24 L504.65 22.76 L505.04 22.97 L505.44 22.49 L505.83 22.85 L506.22 23.21 L506.62 23.18 L507.01 23.27 L507.40 22.70 L507.80 23.02 L508.19 23.24 L508.58 22.62 L508.98 23.00 L509.37 23.29 L509.76 23.82 L510.16 22.85 L510.55 22.96 L510.95 23.06 L511.34 23.30 L511.73 23.51 L512.13 23.21 L512.52 22.99 L512.91 23.17 L513.31 23.19 L513.70 23.36 L514.09 22.96 L514.49 23.02 L514.88 23.52 L515.27 22.77 L515.67 22.76 L516.06 22.75 L516.46 23.23 L516.85 23.27 L517.24 23.75 L517.64 22.81 L518.03 24.25 L518.42 23.39 L518.82 23.37 L519.21 22.78 L519.60 23.21 L520.00 23.70 L520.39 23.94 L520.78 23.59 L521.18 23.18 L521.57 23.21 L521.97 23.35 L522.36 23.60 L522.75 23.36 L523.15 22.77 L523.54 23.82 L523.93 23.26 L524.33 22.48 L524.72 23.01 L525.11 23.52 L525.51 22.97 L525.90 23.68 L526.29 23.31 L526.69 22.54 L527.08 22.38 L527.47 24.18 L527.87 22.99 L528.26 22.37 L528.66 23.62 L529.05 23.23 L529.44 22.61 L529.84 23.61 L530.23 23.15 L530.62 23.41 L531.02 24.35 L531.41 23.22 L531.80 23.49 L532.20 22.94 L532.59 22.36 L532.98 23.07 L533.38 23.60 L533.77 23.20 L534.17 23.33 L534.56 22.93 L534.95 24.16 L535.35 24.03 L535.74 24.48 L536.13 23.16 L536.53 23.48 L536.92 23.79 L537.31 23.84 L537.71 23.77 L538.10 23.95 L538.49 23.66 L538.89 23.75 L539.28 22.82 L539.68 23.35 L540.07 23.93 L540.46 23.82 L540.86 22.94 L541.25 23.31 L541.64 23.40 L542.04 23.19 L542.43 22.77 L542.82 24.17 L543.22 23.94 L543.61 24.44 L544.00 23.33 L544.40 23.78 L544.79 23.93 L545.18 23.98 L545.58 23.26 L545.97 23.68 L546.37 23.88 L546.76 23.00 L547.15 24.15 L547.55 24.27 L547.94 22.35 L548.33 23.83 L548.73 23.92 L549.12 24.02 L549.51 23.73 L549.91 23.28 L550.30 23.30 L550.69 23.41 L551.09 23.83 L551.48 24.44 L551.88 23.56 L552.27 22.95 L552.66 23.18 L553.06 23.80 L553.45 23.32 L553.84 23.92 L554.24 23.76 L554.63 24.36 L555.02 23.91 L555.42 23.68 L555.81 23.84 L556.20 23.38 L556.60 22.83 L556.99 23.12 L557.39 23.94 L557.78 24.15 L558.17 24.12 L558.57 24.29 L558.96 23.79 L559.35 23.60 L559.75 23.73 L560.14 23.73 L560.53 23.75 L560.93 23.90 L561.32 24.21 L561.71 22.99 L562.11 23.33 L562.50 24.31 L562.89 24.32 L563.29 24.17 L563.68 23.86 L564.08 23.26 L564.47 23.38 L564.86 23.36 L565.26 23.36 L565.65 23.36 L566.04 23.55 L566.44 23.69 L566.83 23.99 L567.22 24.80 L567.62 24.00 L568.01 23.05 L568.40 24.22 L568.80 24.27 L569.19 23.45 L569.59 23.93 L569.98 24.21 L570.37 23.20 L570.77 23.67 L571.16 23.61 L571.55 24.28 L571.95 23.76 L572.34 23.82 L572.73 23.63 L573.13 23.45 L573.52 23.47 L573.91 23.95 L574.31 23.70 L574.70 24.62 L575.10 23.73 L575.49 23.72 L575.88 24.26 L576.28 24.46 L576.67 24.10 L577.06 24.69 L577.46 23.92 L577.85 23.95 L578.24 24.57 L578.64 24.08 L579.03 23.58 L579.42 23.59 L579.82 23.62 L580.21 24.20 L580.61 24.30 L581.00 24.34 L581.39 23.85 L581.79 22.98 L582.18 23.46 L582.57 23.37 L582.97 23.50 L583.36 24.98 L583.75 24.28 L584.15 24.40 L584.54 23.57 L584.93 23.36 L585.33 24.54 L585.72 24.19 L586.11 23.94 L586.51 24.47 L586.90 24.54 L587.30 24.57 L587.69 23.80 L588.08 24.70 L588.48 23.69 L588.87 24.22 L589.26 23.89 L589.66 23.50 L590.05 24.61 L590.44 24.69 L590.84 24.08 L591.23 24.81 L591.62 24.67 L592.02 24.36 L592.41 24.24 L592.81 24.94 L593.20 24.52 L593.59 24.04 L593.99 23.67 L594.38 25.32 L594.77 23.70 L595.17 23.92 L595.56 24.90 L595.95 25.10 L596.35 24.17 L596.74 24.59 L597.13 24.32 L597.53 23.96 L597.92 24.58 L598.32 24.32 L598.71 24.17 L599.10 23.97 L599.50 23.54 L599.89 23.58 L600.28 24.31 L600.68 24.56 L601.07 23.27 L601.46 24.13 L601.86 24.24 L602.25 25.01 L602.64 24.08 L603.04 24.86 L603.43 24.71 L603.82 25.15 L604.22 24.75 L604.61 24.47 L605.01 25.25 L605.40 24.95 L605.79 24.55 L606.19 25.15 L606.58 25.15 L606.97 24.95 L607.37 25.24 L607.76 24.24 L608.15 25.05 L608.55 24.18 L608.94 24.10 L609.33 25.17 L609.73 24.56 L610.12 24.82 L610.52 25.15 L610.91 24.76 L611.30 24.72 L611.70 24.25 L612.09 24.10 L612.48 25.16 L612.88 24.83 L613.27 24.37 L613.66 24.05 L614.06 25.86 L614.45 24.01 L614.84 24.74 L615.24 23.90 L615.63 24.88 L616.03 25.08 L616.42 24.65 L616.81 24.10 L617.21 24.67 L617.60 25.87 L617.99 24.36 L618.39 25.51 L618.78 25.20 L619.17 25.30 L619.57 25.64 L619.96 25.36 L620.35 25.23 L620.75 25.05 L621.14 24.78 L621.53 24.92 L621.93 25.50 L622.32 24.86 L622.72 24.29 L623.11 24.31 L623.50 24.72 L623.90 24.48 L624.29 24.35 L624.68 24.12 L625.08 23.96 L625.47 24.97 L625.86 24.96 L626.26 24.09 L626.65 24.05 L627.04 24.07 L627.44 26.01 L627.83 24.96 L628.23 26.48 L628.62 24.50 L629.01 24.84 L629.41 24.85 L629.80 24.95 L630.19 24.24 L630.59 25.04 L630.98 24.38 L631.37 24.63 L631.77 24.73 L632.16 24.68 L632.55 24.87 L632.95 25.47 L633.34 24.58 L633.74 24.58 L634.13 25.02 L634.52 24.59 L634.92 24.51 L635.31 25.60 L635.70 25.04 L636.10 25.20 L636.49 25.43 L636.88 24.83 L637.28 25.41 L637.67 25.22 L638.06 24.88 L638.46 24.84 L638.85 24.86 L639.24 23.91 L639.64 25.28 L640.03 24.91 L640.43 25.64 L640.82 24.81 L641.21 24.48 L641.61 24.45 L642.00 25.38 L642.39 25.21 L642.79 24.45 L643.18 25.13 L643.57 24.61 L643.97 25.58 L644.36 24.41 L644.75 24.59 L645.15 24.88 L645.54 25.52 L645.94 25.20 L646.33 25.05 L646.72 25.00 L647.12 25.19 L647.51 25.26 L647.90 25.06 L648.30 24.46 L648.69 26.17 L649.08 25.86 L649.48 25.95 L649.87 25.53 L650.26 26.06 L650.66 24.92 L651.05 25.15 L651.45 25.33 L651.84 25.55 L652.23 25.14 L652.63 25.14 L653.02 25.07 L653.41 25.60 L653.81 24.92 L654.20 25.98" stroke="#ff4fb4" stroke-width="1.5" fill="none" stroke-linejoin="round" stroke-linecap="round" />
<path d="M489.30 21.88 L489.69 21.64 L490.09 22.11 L490.48 22.44 L490.87 21.62 L491.27 22.50 L491.66 21.59 L492.05 22.51 L492.45 21.85 L492.84 21.87 L493.24 20.92 L493.63 22.35 L494.02 22.53 L494.42 22.15 L494.81 22.39 L495.20 22.13 L495.60 21.63 L495.99 21.46 L496.38 21.02 L496.78 22.22 L497.17 20.54 L497.56 20.88 L497.96 21.97 L498.35 23.02 L498.75 21.92 L499.14 21.85 L499.53 23.04 L499.93 21.86 L500.32 22.00 L500.71 22.30 L501.11 21.60 L501.50 21.42 L501.89 22.17 L502.29 21.82 L502.68 22.26 L503.07 22.34 L503.47 21.91 L503.86 21.69 L504.26 22.24 L504.65 23.07 L505.04 21.68 L505.44 22.77 L505.83 21.92 L506.22 21.10 L506.62 22.00 L507.01 22.59 L507.40 22.73 L507.80 21.42 L508.19 22.02 L508.58 21.75 L508.98 21.56 L509.37 22.05 L509.76 22.19 L510.16 22.51 L510.55 23.58 L510.95 22.81 L511.34 22.09 L511.73 22.15 L512.13 21.86 L512.52 22.13 L512.91 22.00 L513.31 21.69 L513.70 22.53 L514.09 22.24 L514.49 22.90 L514.88 21.62 L515.27 22.09 L515.67 21.87 L516.06 21.35 L516.46 21.59 L516.85 22.16 L517.24 21.74 L517.64 22.86 L518.03 21.93 L518.42 22.08 L518.82 22.96 L519.21 21.49 L519.60 22.52 L520.00 21.83 L520.39 22.39 L520.78 21.69 L521.18 21.53 L521.57 22.61 L521.97 22.96 L522.36 22.27 L522.75 21.79 L523.15 22.40 L523.54 22.53 L523.93 21.98 L524.33 23.61 L524.72 22.57 L525.11 22.93 L525.51 22.10 L525.90 22.62 L526.29 22.82 L526.69 22.44 L527.08 23.00 L527.47 22.28 L527.87 22.62 L528.26 22.47 L528.66 22.65 L529.05 21.84 L529.44 22.36 L529.84 22.05 L530.23 22.07 L530.62 22.72 L531.02 22.04 L531.41 22.15 L531.80 22.18 L532.20 22.54 L532.59 22.56 L532.98 21.96 L533.38 21.27 L533.77 22.78 L534.17 22.10 L534.56 22.55 L534.95 21.98 L535.35 22.16 L535.74 21.86 L536.13 23.79 L536.53 22.70 L536.92 22.90 L537.31 22.46 L537.71 22.78 L538.10 22.74 L538.49 22.08 L538.89 21.48 L539.28 23.85 L539.68 22.60 L540.07 22.29 L540.46 22.45 L540.86 22.63 L541.25 23.14 L541.64 22.94 L542.04 22.11 L542.43 21.94 L542.82 22.44 L543.22 22.91 L543.61 22.45 L544.00 22.62 L544.40 22.23 L544.79 22.45 L545.18 22.83 L545.58 22.43 L545.97 23.12 L546.37 22.12 L546.76 21.95 L547.15 23.13 L547.55 22.34 L547.94 23.05 L548.33 22.02 L548.73 22.11 L549.12 22.68 L549.51 22.08 L549.91 22.80 L550.30 22.91 L550.69 22.88 L551.09 22.67 L551.48 22.76 L551.88 22.53 L552.27 22.92 L552.66 22.24 L553.06 22.11 L553.45 22.88 L553.84 23.35 L554.24 22.28 L554.63 22.08 L555.02 22.73 L555.42 23.30 L555.81 22.53 L556.20 21.91 L556.60 23.61 L556.99 22.44 L557.39 22.84 L557.78 23.11 L558.17 22.44 L558.57 23.35 L558.96 22.56 L559.35 22.05 L559.75 22.63 L560.14 23.16 L560.53 23.61 L560.93 23.37 L561.32 23.66 L561.71 21.94 L562.11 22.87 L562.50 23.27 L562.89 23.41 L563.29 23.30 L563.68 22.94 L564.08 23.41 L564.47 21.94 L564.86 23.16 L565.26 23.18 L565.65 22.64 L566.04 22.08 L566.44 22.14 L566.83 23.05 L567.22 22.69 L567.62 22.75 L568.01 22.56 L568.40 22.70 L568.80 23.31 L569.19 23.47 L569.59 22.76 L569.98 23.44 L570.37 22.18 L570.77 22.84 L571.16 23.38 L571.55 23.04 L571.95 23.13 L572.34 22.95 L572.73 22.42 L573.13 23.62 L573.52 23.83 L573.91 22.74 L574.31 23.00 L574.70 22.84 L575.10 22.70 L575.49 23.02 L575.88 22.54 L576.28 23.39 L576.67 22.91 L577.06 23.37 L577.46 23.52 L577.85 22.65 L578.24 22.68 L578.64 23.94 L579.03 23.54 L579.42 22.84 L579.82 22.45 L580.21 23.33 L580.61 23.09 L581.00 23.71 L581.39 21.76 L581.79 22.78 L582.18 22.57 L582.57 22.70 L582.97 22.56 L583.36 22.73 L583.75 23.21 L584.15 22.68 L584.54 23.01 L584.93 22.41 L585.33 23.43 L585.72 23.34 L586.11 22.74 L586.51 22.44 L586.90 23.01 L587.30 23.45 L587.69 23.15 L588.08 23.35 L588.48 22.16 L588.87 22.66 L589.26 22.49 L589.66 22.97 L590.05 23.40 L590.44 22.55 L590.84 22.31 L591.23 22.85 L591.62 23.16 L592.02 22.61 L592.41 23.34 L592.81 22.78 L593.20 23.53 L593.59 23.66 L593.99 22.90 L594.38 23.02 L594.77 22.24 L595.17 23.34 L595.56 23.19 L595.95 23.78 L596.35 24.15 L596.74 24.11 L597.13 22.99 L597.53 23.82 L597.92 22.67 L598.32 22.53 L598.71 23.39 L599.10 22.42 L599.50 23.14 L599.89 22.70 L600.28 23.38 L600.68 22.79 L601.07 23.75 L601.46 22.97 L601.86 23.52 L602.25 23.36 L602.64 22.98 L603.04 23.22 L603.43 23.35 L603.82 22.95 L604.22 22.92 L604.61 24.02 L605.01 23.05 L605.40 23.00 L605.79 23.72 L606.19 23.15 L606.58 24.01 L606.97 22.64 L607.37 23.48 L607.76 23.41 L608.15 22.78 L608.55 23.45 L608.94 23.09 L609.33 23.91 L609.73 23.68 L610.12 24.10 L610.52 23.51 L610.91 22.90 L611.30 23.31 L611.70 22.98 L612.09 23.94 L612.48 23.87 L612.88 23.67 L613.27 23.16 L613.66 23.27 L614.06 23.46 L614.45 23.15 L614.84 23.54 L615.24 23.48 L615.63 22.82 L616.03 23.77 L616.42 23.40 L616.81 22.69 L617.21 23.45 L617.60 23.15 L617.99 23.81 L618.39 22.54 L618.78 24.64 L619.17 24.09 L619.57 24.06 L619.96 22.73 L620.35 23.36 L620.75 23.68 L621.14 24.19 L621.53 23.37 L621.93 23.50 L622.32 23.91 L622.72 24.32 L623.11 24.13 L623.50 23.48 L623.90 23.43 L624.29 23.56 L624.68 23.67 L625.08 24.49 L625.47 23.59 L625.86 24.13 L626.26 23.60 L626.65 23.39 L627.04 23.97 L627.44 24.15 L627.83 23.15 L628.23 23.47 L628.62 23.97 L629.01 25.16 L629.41 23.69 L629.80 23.35 L630.19 23.11 L630.59 24.02 L630.98 24.01 L631.37 23.91 L631.77 23.28 L632.16 24.29 L632.55 23.76 L632.95 24.17 L633.34 23.58 L633.74 24.50 L634.13 23.54 L634.52 23.98 L634.92 23.85 L635.31 23.48 L635.70 23.18 L636.10 24.60 L636.49 23.26 L636.88 23.49 L637.28 23.92 L637.67 23.08 L638.06 23.69 L638.46 23.14 L638.85 24.09 L639.24 24.23 L639.64 23.19 L640.03 22.73 L640.43 23.50 L640.82 23.37 L641.21 24.06 L641.61 24.49 L642.00 23.95 L642.39 23.09 L642.79 24.77 L643.18 24.10 L643.57 24.81 L643.97 23.81 L644.36 23.43 L644.75 24.49 L645.15 24.08 L645.54 23.22 L645.94 23.93 L646.33 24.51 L646.72 24.56 L647.12 24.91 L647.51 23.52 L647.90 24.29 L648.30 23.40 L648.69 23.49 L649.08 24.26 L649.48 24.20 L649.87 23.55 L650.26 23.87 L650.66 23.82 L651.05 24.78 L651.45 23.52 L651.84 24.41 L652.23 25.11 L652.63 24.29 L653.02 23.77 L653.41 22.94 L653.81 24.18 L654.20 24.66" stroke="#1a1a9a" stroke-width="0.8" fill="none" stroke-linejoin="round" stroke-linecap="round" stroke-dasharray="1 3"/>
<path d="M489.30 21.12 L489.69 27.27 L490.09 29.69 L490.48 32.30 L490.87 33.47 L491.27 35.48 L491.66 35.58 L492.05 37.63 L492.45 37.40 L492.84 38.68 L493.24 39.53 L493.63 40.08 L494.02 40.17 L494.42 41.22 L494.81 42.81 L495.20 42.33 L495.60 43.20 L495.99 44.32 L496.38 44.11 L496.78 45.23 L497.17 45.28 L497.56 45.74 L497.96 46.47 L498.35 46.50 L498.75 47.45 L499.14 47.49 L499.53 48.12 L499.93 48.41 L500.32 48.14 L500.71 49.08 L501.11 49.81 L501.50 49.86 L501.89 50.40 L502.29 50.47 L502.68 50.75 L503.07 51.08 L503.47 51.38 L503.86 51.88 L504.26 51.87 L504.65 51.97 L505.04 52.79 L505.44 52.91 L505.83 53.18 L506.22 53.11 L506.62 53.48 L507.01 54.36 L507.40 54.42 L507.80 55.23 L508.19 55.39 L508.58 55.40 L508.98 55.52 L509.37 55.74 L509.76 56.45 L510.16 57.09 L510.55 56.85 L510.95 57.34 L511.34 57.46 L511.73 57.84 L512.13 57.96 L512.52 58.26 L512.91 58.49 L513.31 59.17 L513.70 59.00 L514.09 59.75 L514.49 59.84 L514.88 59.57 L515.27 60.31 L515.67 61.06 L516.06 60.50 L516.46 60.93 L516.85 61.15 L517.24 61.71 L517.64 61.93 L518.03 62.38 L518.42 62.78 L518.82 62.35 L519.21 63.20 L519.60 63.49 L520.00 63.73 L520.39 63.26 L520.78 63.81 L521.18 64.44 L521.57 64.58 L521.97 64.65 L522.36 64.77 L522.75 65.78 L523.15 65.22 L523.54 65.80 L523.93 66.17 L524.33 66.30 L524.72 66.14 L525.11 66.05 L525.51 66.76 L525.90 66.84 L526.29 67.47 L526.69 67.27 L527.08 67.36 L527.47 68.28 L527.87 68.16 L528.26 67.95 L528.66 68.93 L529.05 68.68 L529.44 68.56 L529.84 69.46 L530.23 69.24 L530.62 69.27 L531.02 69.19 L531.41 70.04 L531.80 69.47 L532.20 69.90 L532.59 69.79 L532.98 69.97 L533.38 70.40 L533.77 70.52 L534.17 71.39 L534.56 71.44 L534.95 71.50 L535.35 71.46 L535.74 71.23 L536.13 72.24 L536.53 71.96 L536.92 72.44 L537.31 72.68 L537.71 71.90 L538.10 72.50 L538.49 72.20 L538.89 72.51 L539.28 73.33 L539.68 73.79 L540.07 72.74 L540.46 73.68 L540.86 74.08 L541.25 73.67 L541.64 74.01 L542.04 74.43 L542.43 74.49 L542.82 74.49 L543.22 74.68 L543.61 74.63 L544.00 75.14 L544.40 75.29 L544.79 75.15 L545.18 75.40 L545.58 75.31 L545.97 75.88 L546.37 75.98 L546.76 76.46 L547.15 75.77 L547.55 76.82 L547.94 76.46 L548.33 76.94 L548.73 76.70 L549.12 76.71 L549.51 77.58 L549.91 77.27 L550.30 77.89 L550.69 77.03 L551.09 77.74 L551.48 78.22 L551.88 78.07 L552.27 77.57 L552.66 77.64 L553.06 77.84 L553.45 78.60 L553.84 78.53 L554.24 78.09 L554.63 78.95 L555.02 78.95 L555.42 79.26 L555.81 79.44 L556.20 78.82 L556.60 79.12 L556.99 79.29 L557.39 79.37 L557.78 79.35 L558.17 79.31 L558.57 79.90 L558.96 80.12 L559.35 80.45 L559.75 79.91 L560.14 80.52 L560.53 80.94 L560.93 80.67 L561.32 80.69 L561.71 80.56 L562.11 80.62 L562.50 81.27 L562.89 81.41 L563.29 81.38 L563.68 81.77 L564.08 81.54 L564.47 81.48 L564.86 81.72 L565.26 82.36 L565.65 82.34 L566.04 81.69 L566.44 82.52 L566.83 82.09 L567.22 82.24 L567.62 82.66 L568.01 82.99 L568.40 82.73 L568.80 83.19 L569.19 83.09 L569.59 83.12 L569.98 83.49 L570.37 83.45 L570.77 83.59 L571.16 83.99 L571.55 83.78 L571.95 84.03 L572.34 84.51 L572.73 84.16 L573.13 84.25 L573.52 84.45 L573.91 85.01 L574.31 84.22 L574.70 84.35 L575.10 84.46 L575.49 84.66 L575.88 85.25 L576.28 84.91 L576.67 85.33 L577.06 84.45 L577.46 85.39 L577.85 85.11 L578.24 85.89 L578.64 85.87 L579.03 85.76 L579.42 85.46 L579.82 85.60 L580.21 85.76 L580.61 86.52 L581.00 85.68 L581.39 86.40 L581.79 85.70 L582.18 85.70 L582.57 86.11 L582.97 86.15 L583.36 86.93 L583.75 85.82 L584.15 86.64 L584.54 86.48 L584.93 87.14 L585.33 86.97 L585.72 87.40 L586.11 87.19 L586.51 87.19 L586.90 87.19 L587.30 86.92 L587.69 87.28 L588.08 87.44 L588.48 87.58 L588.87 87.04 L589.26 87.93 L589.66 87.45 L590.05 88.51 L590.44 88.25 L590.84 87.93 L591.23 88.18 L591.62 87.27 L592.02 87.48 L592.41 88.83 L592.81 88.77 L593.20 88.55 L593.59 88.04 L593.99 88.30 L594.38 88.63 L594.77 89.25 L595.17 89.15 L595.56 89.79 L595.95 89.51 L596.35 88.97 L596.74 88.93 L597.13 89.66 L597.53 89.29 L597.92 88.89 L598.32 89.42 L598.71 89.64 L599.10 89.42 L599.50 89.52 L599.89 89.74 L600.28 90.00 L600.68 90.04 L601.07 89.95 L601.46 90.22 L601.86 89.71 L602.25 89.92 L602.64 89.93 L603.04 89.71 L603.43 89.92 L603.82 90.05 L604.22 90.45 L604.61 90.70 L605.01 89.99 L605.40 90.99 L605.79 91.05 L606.19 91.20 L606.58 90.94 L606.97 90.95 L607.37 90.83 L607.76 91.30 L608.15 91.84 L608.55 91.27 L608.94 91.14 L609.33 91.51 L609.73 91.64 L610.12 91.49 L610.52 91.29 L610.91 91.84 L611.30 92.33 L611.70 92.14 L612.09 92.09 L612.48 92.67 L612.88 91.94 L613.27 92.50 L613.66 92.17 L614.06 92.34 L614.45 92.57 L614.84 92.04 L615.24 92.80 L615.63 92.90 L616.03 92.67 L616.42 92.58 L616.81 92.91 L617.21 93.29 L617.60 92.84 L617.99 92.94 L618.39 92.55 L618.78 93.34 L619.17 93.27 L619.57 93.59 L619.96 93.95 L620.35 93.53 L620.75 93.36 L621.14 94.01 L621.53 93.97 L621.93 94.20 L622.32 93.48 L622.72 94.17 L623.11 93.86 L623.50 94.38 L623.90 94.15 L624.29 94.44 L624.68 95.04 L625.08 94.35 L625.47 94.28 L625.86 95.16 L626.26 94.63 L626.65 94.78 L627.04 95.05 L627.44 94.85 L627.83 95.44 L628.23 94.83 L628.62 94.60 L629.01 95.43 L629.41 95.13 L629.80 94.84 L630.19 95.70 L630.59 96.53 L630.98 96.82 L631.37 96.03 L631.77 95.71 L632.16 95.36 L632.55 96.06 L632.95 95.32 L633.34 95.94 L633.74 96.28 L634.13 97.79 L634.52 97.81 L634.92 96.59 L635.31 96.34 L635.70 96.17 L636.10 95.90 L636.49 95.83 L636.88 96.17 L637.28 96.62 L637.67 97.29 L638.06 98.17 L638.46 98.56 L638.85 98.21 L639.24 97.13 L639.64 96.93 L640.03 96.60 L640.43 96.41 L640.82 97.67 L641.21 96.77 L641.61 97.75 L642.00 102.24 L642.39 107.52 L642.79 105.91 L643.18 99.60 L643.57 97.83 L643.97 96.55 L644.36 97.76 L644.75 101.03 L645.15 105.18 L645.54 103.98 L645.94 99.16 L646.33 97.32 L646.72 98.17 L647.12 97.05 L647.51 97.73 L647.90 97.63 L648.30 97.92 L648.69 100.19 L649.08 102.82 L649.48 103.75 L649.87 101.73 L650.26 99.02 L650.66 98.69 L651.05 98.42 L651.45 98.44 L651.84 98.04 L652.23 97.38 L652.63 100.48 L653.02 105.75 L653.41 110.53 L653.81 108.43 L654.20 102.75" stroke="#1a8a1a" stroke-width="1.8" fill="none" stroke-linejoin="round" stroke-linecap="round" />
<path d="M489.30 21.51 L489.69 27.53 L490.09 31.49 L490.48 34.58 L490.87 37.09 L491.27 39.39 L491.66 41.48 L492.05 43.32 L492.45 44.89 L492.84 46.13 L493.24 47.14 L493.63 48.07 L494.02 48.93 L494.42 49.71 L494.81 50.44 L495.20 51.11 L495.60 51.74 L495.99 52.32 L496.38 52.86 L496.78 53.38 L497.17 53.88 L497.56 54.36 L497.96 54.83 L498.35 55.28 L498.75 55.72 L499.14 56.14 L499.53 56.55 L499.93 56.93 L500.32 57.31 L500.71 57.67 L501.11 58.02 L501.50 58.36 L501.89 58.69 L502.29 59.01 L502.68 59.33 L503.07 59.64 L503.47 59.95 L503.86 60.25 L504.26 60.55 L504.65 60.86 L505.04 61.16 L505.44 61.47 L505.83 61.79 L506.22 62.10 L506.62 62.43 L507.01 62.76 L507.40 63.09 L507.80 63.42 L508.19 63.75 L508.58 64.08 L508.98 64.41 L509.37 64.74 L509.76 65.06 L510.16 65.37 L510.55 65.68 L510.95 65.98 L511.34 66.28 L511.73 66.56 L512.13 66.83 L512.52 67.09 L512.91 67.34 L513.31 67.58 L513.70 67.82 L514.09 68.05 L514.49 68.28 L514.88 68.51 L515.27 68.73 L515.67 68.95 L516.06 69.16 L516.46 69.37 L516.85 69.58 L517.24 69.78 L517.64 69.99 L518.03 70.18 L518.42 70.38 L518.82 70.57 L519.21 70.76 L519.60 70.95 L520.00 71.14 L520.39 71.32 L520.78 71.51 L521.18 71.69 L521.57 71.87 L521.97 72.05 L522.36 72.23 L522.75 72.40 L523.15 72.58 L523.54 72.76 L523.93 72.93 L524.33 73.11 L524.72 73.28 L525.11 73.46 L525.51 73.63 L525.90 73.81 L526.29 73.98 L526.69 74.15 L527.08 74.32 L527.47 74.49 L527.87 74.66 L528.26 74.83 L528.66 75.00 L529.05 75.16 L529.44 75.33 L529.84 75.49 L530.23 75.65 L530.62 75.81 L531.02 75.97 L531.41 76.13 L531.80 76.28 L532.20 76.44 L532.59 76.59 L532.98 76.75 L533.38 76.90 L533.77 77.04 L534.17 77.19 L534.56 77.34 L534.95 77.48 L535.35 77.62 L535.74 77.76 L536.13 77.90 L536.53 78.04 L536.92 78.17 L537.31 78.31 L537.71 78.44 L538.10 78.56 L538.49 78.69 L538.89 78.82 L539.28 78.94 L539.68 79.06 L540.07 79.18 L540.46 79.30 L540.86 79.42 L541.25 79.54 L541.64 79.65 L542.04 79.77 L542.43 79.88 L542.82 79.99 L543.22 80.10 L543.61 80.21 L544.00 80.32 L544.40 80.43 L544.79 80.54 L545.18 80.65 L545.58 80.76 L545.97 80.86 L546.37 80.97 L546.76 81.08 L547.15 81.18 L547.55 81.29 L547.94 81.40 L548.33 81.50 L548.73 81.61 L549.12 81.72 L549.51 81.82 L549.91 81.93 L550.30 82.04 L550.69 82.14 L551.09 82.25 L551.48 82.36 L551.88 82.46 L552.27 82.57 L552.66 82.68 L553.06 82.78 L553.45 82.89 L553.84 83.00 L554.24 83.10 L554.63 83.20 L555.02 83.31 L555.42 83.41 L555.81 83.52 L556.20 83.62 L556.60 83.72 L556.99 83.82 L557.39 83.92 L557.78 84.02 L558.17 84.12 L558.57 84.22 L558.96 84.31 L559.35 84.41 L559.75 84.50 L560.14 84.60 L560.53 84.69 L560.93 84.78 L561.32 84.87 L561.71 84.96 L562.11 85.05 L562.50 85.13 L562.89 85.22 L563.29 85.30 L563.68 85.38 L564.08 85.46 L564.47 85.54 L564.86 85.62 L565.26 85.70 L565.65 85.77 L566.04 85.84 L566.44 85.91 L566.83 85.98 L567.22 86.05 L567.62 86.12 L568.01 86.18 L568.40 86.25 L568.80 86.31 L569.19 86.37 L569.59 86.44 L569.98 86.50 L570.37 86.56 L570.77 86.62 L571.16 86.68 L571.55 86.74 L571.95 86.80 L572.34 86.86 L572.73 86.92 L573.13 86.98 L573.52 87.04 L573.91 87.10 L574.31 87.16 L574.70 87.22 L575.10 87.28 L575.49 87.34 L575.88 87.40 L576.28 87.46 L576.67 87.52 L577.06 87.59 L577.46 87.65 L577.85 87.71 L578.24 87.77 L578.64 87.83 L579.03 87.89 L579.42 87.95 L579.82 88.01 L580.21 88.07 L580.61 88.13 L581.00 88.19 L581.39 88.25 L581.79 88.31 L582.18 88.37 L582.57 88.43 L582.97 88.49 L583.36 88.55 L583.75 88.61 L584.15 88.67 L584.54 88.73 L584.93 88.79 L585.33 88.85 L585.72 88.91 L586.11 88.97 L586.51 89.03 L586.90 89.09 L587.30 89.15 L587.69 89.21 L588.08 89.27 L588.48 89.32 L588.87 89.38 L589.26 89.44 L589.66 89.50 L590.05 89.56 L590.44 89.62 L590.84 89.68 L591.23 89.73 L591.62 89.79 L592.02 89.85 L592.41 89.91 L592.81 89.97 L593.20 90.03 L593.59 90.08 L593.99 90.14 L594.38 90.20 L594.77 90.26 L595.17 90.32 L595.56 90.37 L595.95 90.43 L596.35 90.49 L596.74 90.55 L597.13 90.61 L597.53 90.66 L597.92 90.72 L598.32 90.78 L598.71 90.84 L599.10 90.89 L599.50 90.95 L599.89 91.01 L600.28 91.07 L600.68 91.12 L601.07 91.18 L601.46 91.24 L601.86 91.29 L602.25 91.35 L602.64 91.41 L603.04 91.47 L603.43 91.52 L603.82 91.58 L604.22 91.64 L604.61 91.69 L605.01 91.75 L605.40 91.81 L605.79 91.86 L606.19 91.92 L606.58 91.98 L606.97 92.04 L607.37 92.09 L607.76 92.15 L608.15 92.21 L608.55 92.27 L608.94 92.33 L609.33 92.39 L609.73 92.45 L610.12 92.51 L610.52 92.57 L610.91 92.63 L611.30 92.70 L611.70 92.76 L612.09 92.82 L612.48 92.88 L612.88 92.94 L613.27 93.00 L613.66 93.07 L614.06 93.13 L614.45 93.19 L614.84 93.25 L615.24 93.31 L615.63 93.38 L616.03 93.44 L616.42 93.50 L616.81 93.56 L617.21 93.62 L617.60 93.69 L617.99 93.75 L618.39 93.81 L618.78 93.87 L619.17 93.93 L619.57 93.99 L619.96 94.05 L620.35 94.11 L620.75 94.17 L621.14 94.23 L621.53 94.29 L621.93 94.35 L622.32 94.41 L622.72 94.46 L623.11 94.52 L623.50 94.58 L623.90 94.63 L624.29 94.69 L624.68 94.74 L625.08 94.80 L625.47 94.85 L625.86 94.91 L626.26 94.96 L626.65 95.01 L627.04 95.06 L627.44 95.11 L627.83 95.16 L628.23 95.21 L628.62 95.26 L629.01 95.31 L629.41 95.36 L629.80 95.40 L630.19 95.45 L630.59 95.49 L630.98 95.53 L631.37 95.58 L631.77 95.62 L632.16 95.66 L632.55 95.70 L632.95 95.74 L633.34 95.77 L633.74 95.81 L634.13 95.85 L634.52 95.88 L634.92 95.91 L635.31 95.95 L635.70 95.98 L636.10 96.01 L636.49 96.05 L636.88 96.08 L637.28 96.11 L637.67 96.14 L638.06 96.17 L638.46 96.21 L638.85 96.24 L639.24 96.27 L639.64 96.30 L640.03 96.33 L640.43 96.36 L640.82 96.39 L641.21 96.42 L641.61 96.44 L642.00 96.47 L642.39 96.50 L642.79 96.53 L643.18 96.56 L643.57 96.58 L643.97 96.61 L644.36 96.64 L644.75 96.66 L645.15 96.69 L645.54 96.71 L645.94 96.74 L646.33 96.76 L646.72 96.78 L647.12 96.81 L647.51 96.83 L647.90 96.85 L648.30 96.87 L648.69 96.89 L649.08 96.91 L649.48 96.93 L649.87 96.95 L650.26 96.97 L650.66 96.99 L651.05 97.01 L651.45 97.03 L651.84 97.04 L652.23 97.06 L652.63 97.07 L653.02 97.09 L653.41 97.10 L653.81 97.12 L654.20 97.13" stroke="#a01414" stroke-width="1.4" fill="none" stroke-linejoin="round" stroke-linecap="round" />
<path d="M493.7 101.50H511" stroke="#1a1a9a" stroke-width="1.6"/>
<text x="513.40" y="104.30" font-family="Liberation Sans" font-size="7.7" text-anchor="start" fill="#000" >Vis, With S<tspan font-size="6.0" dy="-3.2">2−</tspan><tspan dy="3.2">/SO</tspan><tspan font-size="6.0" dy="1.8">3</tspan><tspan font-size="6.0" dy="-5">2−</tspan></text>
<path d="M493.7 113.70H511" stroke="#ff4fb4" stroke-width="1.6"/>
<text x="513.40" y="116.50" font-family="Liberation Sans" font-size="7.7" text-anchor="start" fill="#000" >Vis, Without S<tspan font-size="6.0" dy="-3.2">2−</tspan><tspan dy="3.2">/SO</tspan><tspan font-size="6.0" dy="1.8">3</tspan><tspan font-size="6.0" dy="-5">2−</tspan></text>
<path d="M493.7 125.90H511" stroke="#1a8a1a" stroke-width="1.6"/>
<text x="513.40" y="128.70" font-family="Liberation Sans" font-size="7.7" text-anchor="start" fill="#000" >UV+Vis(1 sun), With S<tspan font-size="6.0" dy="-3.2">2−</tspan><tspan dy="3.2">/SO</tspan><tspan font-size="6.0" dy="1.8">3</tspan><tspan font-size="6.0" dy="-5">2−</tspan></text>
<path d="M493.7 138.10H511" stroke="#a03030" stroke-width="1.6"/>
<text x="513.40" y="140.90" font-family="Liberation Sans" font-size="7.7" text-anchor="start" fill="#000" >UV+Vis(1 sun), Without S<tspan font-size="6.0" dy="-3.2">2−</tspan><tspan dy="3.2">/SO</tspan><tspan font-size="6.0" dy="1.8">3</tspan><tspan font-size="6.0" dy="-5">2−</tspan></text>
<text x="571.70" y="172.80" font-family="Liberation Sans" font-size="10.7" text-anchor="middle" fill="#000" >Time (min)</text>
<text transform="translate(465.60 75.20) rotate(-90)" x="0" y="0" font-family="Liberation Sans" font-size="11.5" text-anchor="middle" fill="#000">Normalized <tspan font-style="italic">J</tspan><tspan font-size="8.2" dy="2.8">ph</tspan></text>
<text x="-1.2" y="207.7" font-family="Liberation Sans" font-size="15">d</text>
<text x="17.00" y="208.70" font-family="Liberation Sans" font-size="8.9" text-anchor="start" fill="#000" font-weight="bold">PbS-QD Photoanode</text>
<text x="112.50" y="208.70" font-family="Liberation Sans" font-size="8.93" text-anchor="start" fill="#000" font-weight="bold">PbS-QD Photocathode</text>
<defs>
<linearGradient id="rbw" x1="0" y1="0" x2="0" y2="1">
 <stop offset="0" stop-color="#ffc0c8" stop-opacity="0.25"/>
 <stop offset="0.2" stop-color="#ffd0a8" stop-opacity="0.8"/>
 <stop offset="0.36" stop-color="#f4f040"/>
 <stop offset="0.5" stop-color="#30d060"/>
 <stop offset="0.62" stop-color="#00b8a8"/>
 <stop offset="0.76" stop-color="#3aa0e8"/>
 <stop offset="0.9" stop-color="#c890f0"/>
 <stop offset="1" stop-color="#f0a0f0" stop-opacity="0.4"/>
</linearGradient>
<linearGradient id="fadeL" x1="0" y1="0" x2="1" y2="0">
 <stop offset="0" stop-color="#000"/>
 <stop offset="0.1" stop-color="#080808"/>
 <stop offset="0.25" stop-color="#2a2a2a"/>
 <stop offset="0.4" stop-color="#6a6a6a"/>
 <stop offset="0.55" stop-color="#a8a8a8"/>
 <stop offset="0.75" stop-color="#e0e0e0"/>
 <stop offset="1" stop-color="#fff"/>
</linearGradient>
<mask id="fm" maskUnits="userSpaceOnUse" x="0" y="235" width="200" height="75">
 <rect x="17" y="235" width="39" height="75" fill="url(#fadeL)"/>
</mask>
<filter id="bl" x="-30%" y="-30%" width="160%" height="160%"><feGaussianBlur stdDeviation="1.8"/></filter><filter id="bl2" x="-30%" y="-30%" width="160%" height="160%"><feGaussianBlur stdDeviation="1.5"/></filter>
<linearGradient id="topf" x1="0" y1="0" x2="1" y2="1">
 <stop offset="0" stop-color="#7d838c"/><stop offset="1" stop-color="#979ca5"/>
</linearGradient>
<linearGradient id="sidef" x1="0" y1="0" x2="1" y2="0">
 <stop offset="0" stop-color="#8f949c"/><stop offset="1" stop-color="#b4b8bf"/>
</linearGradient>
<linearGradient id="khaki" x1="0" y1="0" x2="1" y2="1">
 <stop offset="0" stop-color="#a8a078"/><stop offset="1" stop-color="#c9c29b"/>
</linearGradient>
<linearGradient id="greyp" x1="0" y1="0" x2="1" y2="1">
 <stop offset="0" stop-color="#c8c8c8"/><stop offset="1" stop-color="#ececec"/>
</linearGradient>
<radialGradient id="circf" cx="0.5" cy="0.5" r="0.5">
 <stop offset="0" stop-color="#fafafa"/><stop offset="1" stop-color="#eef0f2"/>
</radialGradient>
<linearGradient id="rbw2" x1="0" y1="0" x2="0" y2="1">
 <stop offset="0" stop-color="#f0f060"/>
 <stop offset="0.4" stop-color="#20d090"/>
 <stop offset="0.7" stop-color="#40a8e0"/>
 <stop offset="1" stop-color="#e080f0"/>
</linearGradient>
<clipPath id="cc1"><circle cx="77" cy="316.2" r="24.2"/></clipPath>
</defs>
<g transform="translate(0 0)"><g mask="url(#fm)" opacity="0.9"><path d="M4 244 L54 261 L54 290.5 L4 295 Z" fill="url(#rbw)" filter="url(#bl)"/></g><path d="M69.5 274 L83 262 L86.2 276 L78 291 L70.5 291 Z" fill="url(#khaki)"/><path d="M83.5 239.2 L90.5 274.6 L89.5 278.5 L80.5 293.5 L76 294.5 L78 290.5 L85.8 275.7 L82.6 263 L69.5 272 Z" fill="url(#sidef)"/><path d="M89.6 272 L90.3 273.6 L89.5 278.5 L80.5 293.5 L78.5 294 L88 277.5 Z" fill="#6e737b"/><path d="M51.5 263 L56.5 264.5 L60.5 291 L56 291 Z" fill="#d6ecf2"/><path d="M52.5 264.5 L54 265 L58 291 L56.5 291 Z" fill="#58b4d0" opacity="0.6"/><path d="M56.8 267 L59.2 267.6 L63.2 290 L60.8 290 Z" fill="#f07a20"/><path d="M59.3 268 L60.6 268.3 L64.4 290 L63.2 290 Z" fill="#5a5ae0"/><path d="M60.6 272 L66.2 271 L68.8 290.3 L64.3 290.5 Z" fill="#e050e8"/><ellipse cx="63.4" cy="270.8" rx="3.1" ry="1.8" fill="#e050e8" opacity="0.85"/><circle cx="62.8" cy="280.2" r="7.4" fill="none" stroke="#34485a" stroke-width="0.75"/><path d="M50.8 260.0 L71.5 235.6 L84.0 239.6 L72.2 271 Z" fill="url(#topf)"/><path d="M84.0 239.6 L72.2 271 L74 272 L84.8 243 Z" fill="#9aa0a8"/><path d="M50.6 260.6 L72.6 271.2 L72.6 273.6 L50.6 262.8 Z" fill="#3c4149"/><path d="M55.8 211.3 L59.2 225.5" stroke="#d88a72" stroke-width="1.3" fill="none"/><path d="M59.2 225.5 L65.2 250.5" stroke="#2e3338" stroke-width="1.8" fill="none"/><path d="M55.8 291.2 L73.2 290.2 L74.5 293 L60 298.5 L57 296 Z" fill="#4d535c"/><path d="M56.2 283.5 L52.3 313 M69.4 277.4 L99.5 303.8" stroke="#3a4a5a" stroke-width="0.6" fill="none"/><circle cx="77" cy="316.2" r="24.4" fill="url(#circf)" stroke="#4a5a6a" stroke-width="1"/><g clip-path="url(#cc1)"><path d="M50 307 L59 305 L64 336 L52 336 Z" fill="url(#rbw2)" opacity="0.7" filter="url(#bl2)"/><path d="M63.5 299.5 L57.5 309.5 L64 337 L68.5 337 L62.5 309.5 L67.5 301 Z" fill="#e4f0f4" stroke="#a8c8d4" stroke-width="0.5"/><path d="M86.5 300.5 L95 303.5 L97 322 L91 338 L83 339 L80.5 316.5 Z" fill="#d4d3cc"/><path d="M89 304 L93.5 318 L87.5 331" stroke="#9a9a96" stroke-width="0.6" fill="none"/><path d="M75.2 295.6 L69.5 303.5 L65.2 310.5 L66.6 320.0 L69.2 333.8" stroke="#f5862a" stroke-width="5.0" fill="none" stroke-linejoin="round" stroke-linecap="round"/><path d="M74.0 295.6 L68.3 303.5 L64.0 310.5 L65.4 320.0 L68.0 333.8" stroke="#fff" stroke-opacity="0.2" stroke-width="1.0" fill="none" stroke-linejoin="round"/><path d="M76.9 295.6 L71.2 303.5 L66.9 310.5 L68.3 320.0 L70.9 333.8" stroke="#000" stroke-opacity="0.12" stroke-width="1.0" fill="none" stroke-linejoin="round"/><path d="M79.6 296.8 L73.8 305.5 L70.2 314.2 L71.8 324.0 L74.6 335.5" stroke="#6060e6" stroke-width="5.0" fill="none" stroke-linejoin="round" stroke-linecap="round"/><path d="M78.4 296.8 L72.6 305.5 L69.0 314.2 L70.6 324.0 L73.4 335.5" stroke="#fff" stroke-opacity="0.2" stroke-width="1.0" fill="none" stroke-linejoin="round"/><path d="M81.3 296.8 L75.5 305.5 L71.9 314.2 L73.5 324.0 L76.3 335.5" stroke="#000" stroke-opacity="0.12" stroke-width="1.0" fill="none" stroke-linejoin="round"/><path d="M84.4 298.2 L78.4 307.5 L75.2 316.6 L76.8 326.0 L79.4 336.8" stroke="#e45ce8" stroke-width="5.0" fill="none" stroke-linejoin="round" stroke-linecap="round"/><path d="M83.2 298.2 L77.2 307.5 L74.0 316.6 L75.6 326.0 L78.2 336.8" stroke="#fff" stroke-opacity="0.2" stroke-width="1.0" fill="none" stroke-linejoin="round"/><path d="M86.1 298.2 L80.1 307.5 L76.9 316.6 L78.5 326.0 L81.1 336.8" stroke="#000" stroke-opacity="0.12" stroke-width="1.0" fill="none" stroke-linejoin="round"/><path d="M87.2 300.8 L82.6 308.5 L80.0 317.5 L81.0 326.0 L82.6 336.0" stroke="#e8e45a" stroke-width="2.6" fill="none" stroke-linejoin="round" stroke-linecap="round"/><circle cx="64.7" cy="317.7" r="0.7" fill="#000"/><circle cx="70.2" cy="323.3" r="0.7" fill="#000"/><circle cx="76.4" cy="330" r="0.7" fill="#000"/></g><path d="M60.2 345.4 L64.5 336.5 M60.2 354.1 L70.5 338.8" stroke="#aaa" stroke-width="0.6" fill="none"/></g>
<g transform="translate(90.6 0)"><g mask="url(#fm)" opacity="0.9"><path d="M4 244 L54 261 L54 290.5 L4 295 Z" fill="url(#rbw)" filter="url(#bl)"/></g><path d="M69.5 274 L83 262 L86.2 276 L78 291 L70.5 291 Z" fill="url(#greyp)"/><path d="M83.5 239.2 L90.5 274.6 L89.5 278.5 L80.5 293.5 L76 294.5 L78 290.5 L85.8 275.7 L82.6 263 L69.5 272 Z" fill="url(#sidef)"/><path d="M89.6 272 L90.3 273.6 L89.5 278.5 L80.5 293.5 L78.5 294 L88 277.5 Z" fill="#6e737b"/><path d="M51.5 263 L56.5 264.5 L60.5 291 L56 291 Z" fill="#d6ecf2"/><path d="M52.5 264.5 L54 265 L58 291 L56.5 291 Z" fill="#58b4d0" opacity="0.6"/><path d="M56.8 267 L59.2 267.6 L63.2 290 L60.8 290 Z" fill="#e050e8"/><path d="M59.3 268 L60.6 268.3 L64.4 290 L63.2 290 Z" fill="#5a5ae0"/><path d="M60.6 272 L66.2 271 L68.8 290.3 L64.3 290.5 Z" fill="#f08a30"/><ellipse cx="63.4" cy="270.8" rx="3.1" ry="1.8" fill="#f08a30" opacity="0.85"/><circle cx="62.8" cy="280.2" r="7.4" fill="none" stroke="#34485a" stroke-width="0.75"/><path d="M50.8 260.0 L71.5 235.6 L84.0 239.6 L72.2 271 Z" fill="url(#topf)"/><path d="M84.0 239.6 L72.2 271 L74 272 L84.8 243 Z" fill="#9aa0a8"/><path d="M50.6 260.6 L72.6 271.2 L72.6 273.6 L50.6 262.8 Z" fill="#3c4149"/><path d="M55.8 211.3 L59.2 225.5" stroke="#d88a72" stroke-width="1.3" fill="none"/><path d="M59.2 225.5 L65.2 250.5" stroke="#2e3338" stroke-width="1.8" fill="none"/><path d="M55.8 291.2 L73.2 290.2 L74.5 293 L60 298.5 L57 296 Z" fill="#4d535c"/><path d="M56.2 283.5 L52.3 313 M69.4 277.4 L99.5 303.8" stroke="#3a4a5a" stroke-width="0.6" fill="none"/><circle cx="77" cy="316.2" r="24.4" fill="url(#circf)" stroke="#4a5a6a" stroke-width="1"/><g clip-path="url(#cc1)"><path d="M50 307 L59 305 L64 336 L52 336 Z" fill="url(#rbw2)" opacity="0.7" filter="url(#bl2)"/><path d="M63.5 299.5 L57.5 309.5 L64 337 L68.5 337 L62.5 309.5 L67.5 301 Z" fill="#e4f0f4" stroke="#a8c8d4" stroke-width="0.5"/><path d="M86.5 300.5 L95 303.5 L97 322 L91 338 L83 339 L80.5 316.5 Z" fill="#d4d3cc"/><path d="M89 304 L93.5 318 L87.5 331" stroke="#9a9a96" stroke-width="0.6" fill="none"/><path d="M75.2 295.6 L69.5 303.5 L65.2 310.5 L66.6 320.0 L69.2 333.8" stroke="#e45ce8" stroke-width="5.0" fill="none" stroke-linejoin="round" stroke-linecap="round"/><path d="M74.0 295.6 L68.3 303.5 L64.0 310.5 L65.4 320.0 L68.0 333.8" stroke="#fff" stroke-opacity="0.2" stroke-width="1.0" fill="none" stroke-linejoin="round"/><path d="M76.9 295.6 L71.2 303.5 L66.9 310.5 L68.3 320.0 L70.9 333.8" stroke="#000" stroke-opacity="0.12" stroke-width="1.0" fill="none" stroke-linejoin="round"/><path d="M79.6 296.8 L73.8 305.5 L70.2 314.2 L71.8 324.0 L74.6 335.5" stroke="#6060e6" stroke-width="5.0" fill="none" stroke-linejoin="round" stroke-linecap="round"/><path d="M78.4 296.8 L72.6 305.5 L69.0 314.2 L70.6 324.0 L73.4 335.5" stroke="#fff" stroke-opacity="0.2" stroke-width="1.0" fill="none" stroke-linejoin="round"/><path d="M81.3 296.8 L75.5 305.5 L71.9 314.2 L73.5 324.0 L76.3 335.5" stroke="#000" stroke-opacity="0.12" stroke-width="1.0" fill="none" stroke-linejoin="round"/><path d="M84.4 298.2 L78.4 307.5 L75.2 316.6 L76.8 326.0 L79.4 336.8" stroke="#f5862a" stroke-width="5.0" fill="none" stroke-linejoin="round" stroke-linecap="round"/><path d="M83.2 298.2 L77.2 307.5 L74.0 316.6 L75.6 326.0 L78.2 336.8" stroke="#fff" stroke-opacity="0.2" stroke-width="1.0" fill="none" stroke-linejoin="round"/><path d="M86.1 298.2 L80.1 307.5 L76.9 316.6 L78.5 326.0 L81.1 336.8" stroke="#000" stroke-opacity="0.12" stroke-width="1.0" fill="none" stroke-linejoin="round"/><path d="M87.2 300.8 L82.6 308.5 L80.0 317.5 L81.0 326.0 L82.6 336.0" stroke="#e8e45a" stroke-width="2.6" fill="none" stroke-linejoin="round" stroke-linecap="round"/><circle cx="64.7" cy="317.7" r="0.7" fill="#000"/><circle cx="70.2" cy="323.3" r="0.7" fill="#000"/><circle cx="76.4" cy="330" r="0.7" fill="#000"/></g><path d="M60.2 345.4 L64.5 336.5 M60.2 354.1 L70.5 338.8" stroke="#aaa" stroke-width="0.6" fill="none"/></g>
<text x="57.20" y="342.90" font-family="Liberation Sans" font-size="8.3" text-anchor="end" fill="#000" >ZnO</text>
<text x="57.20" y="353.10" font-family="Liberation Sans" font-size="8.3" text-anchor="end" fill="#000" >n−QD</text>
<text x="57.20" y="363.30" font-family="Liberation Sans" font-size="8.3" text-anchor="end" fill="#000" >p−QD</text>
<text x="147.20" y="342.90" font-family="Liberation Sans" font-size="8.3" text-anchor="end" fill="#000" >P−QD</text>
<text x="147.20" y="353.10" font-family="Liberation Sans" font-size="8.3" text-anchor="end" fill="#000" >n−QD</text>
<text x="147.20" y="363.30" font-family="Liberation Sans" font-size="8.3" text-anchor="end" fill="#000" >ZnO</text>
<text x="227.4" y="208.0" font-family="Liberation Sans" font-size="15">e</text>
<path d="M260.45 207.00H425.45M261.10 207.00V344.00M260.45 344.00H425.45" stroke="#000" stroke-width="1.3" fill="none"/>
<path d="M424.80 207.65V343.35" stroke="#000" stroke-width="1.3" fill="none"/>
<path d="M261.10 344.00v2.6M286.28 344.00v2.6M311.47 344.00v2.6M336.65 344.00v2.6M361.84 344.00v2.6M387.02 344.00v2.6M412.21 344.00v2.6M273.69 344.00v1.6M298.88 344.00v1.6M324.06 344.00v1.6M349.25 344.00v1.6M374.43 344.00v1.6M399.62 344.00v1.6" stroke="#000" stroke-width="1" fill="none"/>
<text x="261.10" y="354.60" font-family="Liberation Sans" font-size="8.6" text-anchor="middle">-0.6</text>
<text x="286.28" y="354.60" font-family="Liberation Sans" font-size="8.6" text-anchor="middle">-0.4</text>
<text x="311.47" y="354.60" font-family="Liberation Sans" font-size="8.6" text-anchor="middle">-0.2</text>
<text x="336.65" y="354.60" font-family="Liberation Sans" font-size="8.6" text-anchor="middle">0.0</text>
<text x="361.84" y="354.60" font-family="Liberation Sans" font-size="8.6" text-anchor="middle">0.2</text>
<text x="387.02" y="354.60" font-family="Liberation Sans" font-size="8.6" text-anchor="middle">0.4</text>
<text x="412.21" y="354.60" font-family="Liberation Sans" font-size="8.6" text-anchor="middle">0.6</text>
<path d="M261.10 332.05h-2.5M261.10 308.28h-2.5M261.10 284.50h-2.5M261.10 260.73h-2.5M261.10 236.96h-2.5M261.10 213.18h-2.5M261.10 343.94h-1.5M261.10 320.17h-1.5M261.10 296.39h-1.5M261.10 272.62h-1.5M261.10 248.84h-1.5M261.10 225.07h-1.5" stroke="#000" stroke-width="1" fill="none"/>
<text x="257.60" y="335.25" font-family="Liberation Sans" font-size="8.6" text-anchor="end">-20</text>
<text x="257.60" y="311.48" font-family="Liberation Sans" font-size="8.6" text-anchor="end">-16</text>
<text x="257.60" y="287.70" font-family="Liberation Sans" font-size="8.6" text-anchor="end">-12</text>
<text x="257.60" y="263.93" font-family="Liberation Sans" font-size="8.6" text-anchor="end">-8</text>
<text x="257.60" y="240.16" font-family="Liberation Sans" font-size="8.6" text-anchor="end">-4</text>
<text x="257.60" y="216.38" font-family="Liberation Sans" font-size="8.6" text-anchor="end">0</text>
<path d="M262.60 213.18H424.30" stroke="#ff8010" stroke-width="1.9" stroke-dasharray="5 3.5 0.3 3.2" stroke-dashoffset="9.9" fill="none"/>
<text x="267.00" y="224.90" font-family="Liberation Sans" font-size="8.5" text-anchor="start" fill="#000" >Dark</text>
<path d="M261.10 316.30 L261.65 316.22 L262.19 316.14 L262.74 316.06 L263.29 315.98 L263.84 315.90 L264.38 315.81 L264.93 315.73 L265.48 315.65 L266.03 315.57 L266.57 315.49 L267.12 315.41 L267.67 315.33 L268.22 315.25 L268.76 315.17 L269.31 315.08 L269.86 315.00 L270.41 314.92 L270.95 314.84 L271.50 314.76 L272.05 314.68 L272.60 314.60 L273.14 314.52 L273.69 314.43 L274.24 314.35 L274.79 314.27 L275.33 314.19 L275.88 314.11 L276.43 314.03 L276.98 313.95 L277.52 313.86 L278.07 313.78 L278.62 313.70 L279.17 313.62 L279.71 313.54 L280.26 313.46 L280.81 313.37 L281.36 313.29 L281.90 313.21 L282.45 313.13 L283.00 313.05 L283.55 312.97 L284.09 312.88 L284.64 312.80 L285.19 312.72 L285.74 312.64 L286.28 312.56 L286.83 312.48 L287.38 312.40 L287.93 312.31 L288.47 312.23 L289.02 312.15 L289.57 312.07 L290.12 311.99 L290.66 311.92 L291.21 311.84 L291.76 311.76 L292.31 311.68 L292.85 311.60 L293.40 311.52 L293.95 311.44 L294.50 311.36 L295.04 311.29 L295.59 311.21 L296.14 311.13 L296.69 311.05 L297.23 310.97 L297.78 310.89 L298.33 310.81 L298.88 310.73 L299.42 310.65 L299.97 310.57 L300.52 310.49 L301.07 310.41 L301.61 310.33 L302.16 310.25 L302.71 310.17 L303.26 310.08 L303.80 310.00 L304.35 309.92 L304.90 309.83 L305.45 309.75 L305.99 309.66 L306.54 309.58 L307.09 309.49 L307.64 309.40 L308.18 309.32 L308.73 309.23 L309.28 309.14 L309.83 309.05 L310.37 308.96 L310.92 308.86 L311.47 308.77 L312.02 308.68 L312.56 308.59 L313.11 308.49 L313.66 308.40 L314.21 308.31 L314.75 308.21 L315.30 308.12 L315.85 308.02 L316.40 307.93 L316.94 307.83 L317.49 307.73 L318.04 307.64 L318.59 307.54 L319.13 307.44 L319.68 307.34 L320.23 307.24 L320.78 307.14 L321.32 307.03 L321.87 306.93 L322.42 306.82 L322.97 306.72 L323.51 306.61 L324.06 306.50 L324.61 306.39 L325.16 306.28 L325.70 306.16 L326.25 306.05 L326.80 305.93 L327.35 305.81 L327.89 305.69 L328.44 305.56 L328.99 305.44 L329.54 305.31 L330.08 305.18 L330.63 305.05 L331.18 304.91 L331.73 304.78 L332.27 304.63 L332.82 304.49 L333.37 304.34 L333.92 304.19 L334.46 304.04 L335.01 303.88 L335.56 303.72 L336.11 303.55 L336.65 303.38 L337.20 303.21 L337.75 303.03 L338.30 302.84 L338.84 302.66 L339.39 302.46 L339.94 302.26 L340.49 302.05 L341.03 301.84 L341.58 301.62 L342.13 301.39 L342.68 301.15 L343.22 300.90 L343.77 300.65 L344.32 300.39 L344.87 300.12 L345.41 299.84 L345.96 299.56 L346.51 299.27 L347.06 298.97 L347.60 298.66 L348.15 298.35 L348.70 298.02 L349.25 297.69 L349.79 297.36 L350.34 297.01 L350.89 296.65 L351.44 296.28 L351.98 295.89 L352.53 295.49 L353.08 295.08 L353.63 294.66 L354.17 294.22 L354.72 293.76 L355.27 293.30 L355.82 292.82 L356.36 292.34 L356.91 291.84 L357.46 291.33 L358.01 290.80 L358.55 290.27 L359.10 289.73 L359.65 289.18 L360.20 288.61 L360.74 288.04 L361.29 287.44 L361.84 286.81 L362.39 286.16 L362.93 285.49 L363.48 284.80 L364.03 284.10 L364.58 283.37 L365.12 282.63 L365.67 281.87 L366.22 281.10 L366.77 280.32 L367.31 279.53 L367.86 278.73 L368.41 277.93 L368.96 277.11 L369.50 276.30 L370.05 275.48 L370.60 274.65 L371.15 273.82 L371.69 272.96 L372.24 272.10 L372.79 271.21 L373.34 270.32 L373.88 269.41 L374.43 268.49 L374.98 267.55 L375.53 266.61 L376.07 265.66 L376.62 264.70 L377.17 263.74 L377.72 262.77 L378.26 261.79 L378.81 260.81 L379.36 259.83 L379.91 258.85 L380.45 257.86 L381.00 256.88 L381.55 255.89 L382.10 254.90 L382.64 253.90 L383.19 252.89 L383.74 251.88 L384.29 250.86 L384.83 249.84 L385.38 248.81 L385.93 247.77 L386.48 246.73 L387.02 245.68 L387.57 244.62 L388.12 243.55 L388.67 242.48 L389.21 241.39 L389.76 240.30 L390.31 239.20 L390.86 238.08 L391.40 236.94 L391.95 235.77 L392.50 234.59 L393.05 233.38 L393.59 232.17 L394.14 230.95 L394.69 229.74 L395.24 228.53 L395.78 227.35 L396.33 226.18 L396.88 225.04 L397.43 223.86 L397.97 222.63 L398.52 221.40 L399.07 220.21 L399.62 219.11 L400.16 218.13 L400.71 217.33 L401.26 216.70 L401.81 216.11 L402.35 215.57 L402.90 215.08 L403.45 214.66 L404.00 214.30 L404.54 214.03 L405.09 213.84 L405.64 213.70 L406.19 213.57 L406.73 213.47 L407.28 213.38 L407.83 213.32 L408.38 213.26 L408.92 213.22 L409.47 213.18 L410.02 213.15 L410.57 213.12 L411.11 213.10 L411.66 213.08 L412.21 213.06 L412.76 213.04 L413.30 213.02 L413.85 213.00 L414.40 212.98 L414.95 212.97 L415.49 212.95 L416.04 212.94 L416.59 212.92 L417.14 212.91 L417.68 212.89 L418.23 212.88 L418.78 212.87 L419.33 212.86 L419.87 212.85 L420.42 212.84 L420.97 212.83 L421.52 212.82 L422.06 212.82 L422.61 212.81 L423.16 212.81 L423.71 212.80 L424.25 212.80 L424.80 212.80" stroke="#ff8010" stroke-width="1.7" fill="none" stroke-linejoin="round" stroke-linecap="round" />
<text x="269.90" y="301.20" font-family="Liberation Sans" font-size="8.7" text-anchor="start" fill="#000" >UV + Vis (1 sun)</text>
<path d="M328.9 333.8H347.6" stroke="#ff8010" stroke-width="1.7"/>
<text x="350.60" y="336.90" font-family="Liberation Sans" font-size="8.8" text-anchor="start" fill="#ff8010" >Pt-Ti/FM/PbS-QD</text>
<text x="342.95" y="369.00" font-family="Liberation Sans" font-size="10.7" text-anchor="middle" fill="#000" ><tspan font-style="italic">E</tspan> (V <tspan font-style="italic">vs.</tspan> RHE)</text>
<text transform="translate(239.00 275.60) rotate(-90)" x="0" y="0" font-family="Liberation Sans" font-size="10.7" text-anchor="middle" fill="#000"><tspan font-style="italic">J</tspan><tspan font-size="7.8" dx="0.2" dy="2.1">ph</tspan><tspan dy="-2.1"> (mA cm</tspan><tspan font-size="7.6" dy="-4">−2</tspan><tspan dy="4">)</tspan></text>
<text x="460.8" y="207.6" font-family="Liberation Sans" font-size="15">f</text>
<path d="M488.65 207.00H654.85M489.30 207.00V343.70M488.65 343.70H654.85" stroke="#000" stroke-width="1.3" fill="none"/>
<path d="M654.20 207.65V343.05" stroke="#4a8ae0" stroke-width="1.3" fill="none"/>
<path d="M489.30 343.70v2.6M514.67 343.70v2.6M540.04 343.70v2.6M565.41 343.70v2.6M590.78 343.70v2.6M616.15 343.70v2.6M641.52 343.70v2.6M501.98 343.70v1.6M527.35 343.70v1.6M552.72 343.70v1.6M578.09 343.70v1.6M603.46 343.70v1.6M628.83 343.70v1.6" stroke="#000" stroke-width="1" fill="none"/>
<text x="489.30" y="354.30" font-family="Liberation Sans" font-size="8.6" text-anchor="middle">0</text>
<text x="514.67" y="354.30" font-family="Liberation Sans" font-size="8.6" text-anchor="middle">20</text>
<text x="540.04" y="354.30" font-family="Liberation Sans" font-size="8.6" text-anchor="middle">40</text>
<text x="565.41" y="354.30" font-family="Liberation Sans" font-size="8.6" text-anchor="middle">60</text>
<text x="590.78" y="354.30" font-family="Liberation Sans" font-size="8.6" text-anchor="middle">80</text>
<text x="616.15" y="354.30" font-family="Liberation Sans" font-size="8.6" text-anchor="middle">100</text>
<text x="641.52" y="354.30" font-family="Liberation Sans" font-size="8.6" text-anchor="middle">120</text>
<path d="M489.30 343.70h-2.5M489.30 313.32h-2.5M489.30 282.94h-2.5M489.30 252.57h-2.5M489.30 222.19h-2.5M489.30 328.51h-1.5M489.30 298.13h-1.5M489.30 267.76h-1.5M489.30 237.38h-1.5" stroke="#000" stroke-width="1" fill="none"/>
<text x="485.80" y="346.90" font-family="Liberation Sans" font-size="8.6" text-anchor="end">0</text>
<text x="485.80" y="316.52" font-family="Liberation Sans" font-size="8.6" text-anchor="end">20</text>
<text x="485.80" y="286.14" font-family="Liberation Sans" font-size="8.6" text-anchor="end">40</text>
<text x="485.80" y="255.77" font-family="Liberation Sans" font-size="8.6" text-anchor="end">60</text>
<text x="485.80" y="225.39" font-family="Liberation Sans" font-size="8.6" text-anchor="end">80</text>
<path d="M654.20 343.70h2.5M654.20 313.32h2.5M654.20 282.94h2.5M654.20 252.57h2.5M654.20 222.19h2.5M654.20 328.51h1.5M654.20 298.13h1.5M654.20 267.76h1.5M654.20 237.38h1.5" stroke="#4a8ae0" stroke-width="1" fill="none"/>
<text x="657.50" y="346.90" font-family="Liberation Sans" font-size="8.6" fill="#4a8ae0">0.0</text>
<text x="657.50" y="316.52" font-family="Liberation Sans" font-size="8.6" fill="#4a8ae0">0.5</text>
<text x="657.50" y="286.14" font-family="Liberation Sans" font-size="8.6" fill="#4a8ae0">1.0</text>
<text x="657.50" y="255.77" font-family="Liberation Sans" font-size="8.6" fill="#4a8ae0">1.5</text>
<text x="657.50" y="225.39" font-family="Liberation Sans" font-size="8.6" fill="#4a8ae0">2.0</text>
<path d="M498.98 337.56L643.52 241.04" stroke="#ff8010" stroke-width="1.1" stroke-dasharray="3.5 3.5 1 3.5" fill="none"/>
<path d="M498.98 340.63L643.52 292.37" stroke="#333" stroke-width="1.1" stroke-dasharray="3 3 1 2 1 3" fill="none"/>
<circle cx="501.98" cy="339.75" r="2.3" fill="none" stroke="#111" stroke-width="1.3"/>
<path d="M499.98 339.75h4" stroke="#111" stroke-width="0.8"/>
<circle cx="501.98" cy="335.35" r="2.4" fill="#ffd0a0" stroke="#ff8010" stroke-width="1.3"/>
<path d="M500.58 333.45h2.8M500.58 337.25h2.8M501.98 333.45v3.8M499.78 335.35h4.4" stroke="#111" stroke-width="0.75"/>
<circle cx="514.67" cy="335.35" r="2.3" fill="none" stroke="#111" stroke-width="1.3"/>
<path d="M512.67 335.35h4" stroke="#111" stroke-width="0.8"/>
<circle cx="514.67" cy="326.54" r="2.4" fill="#ffd0a0" stroke="#ff8010" stroke-width="1.3"/>
<path d="M513.27 324.64h2.8M513.27 328.44h2.8M514.67 324.64v3.8M512.47 326.54h4.4" stroke="#111" stroke-width="0.75"/>
<circle cx="527.35" cy="331.09" r="2.3" fill="none" stroke="#111" stroke-width="1.3"/>
<path d="M525.35 331.09h4" stroke="#111" stroke-width="0.8"/>
<circle cx="527.35" cy="318.49" r="2.4" fill="#ffd0a0" stroke="#ff8010" stroke-width="1.3"/>
<path d="M525.95 316.59h2.8M525.95 320.39h2.8M527.35 316.59v3.8M525.15 318.49h4.4" stroke="#111" stroke-width="0.75"/>
<circle cx="540.04" cy="326.99" r="2.3" fill="none" stroke="#111" stroke-width="1.3"/>
<path d="M538.04 326.99h4" stroke="#111" stroke-width="0.8"/>
<circle cx="540.04" cy="310.13" r="2.4" fill="#ffd0a0" stroke="#ff8010" stroke-width="1.3"/>
<path d="M538.64 308.23h2.8M538.64 312.03h2.8M540.04 308.23v3.8M537.84 310.13h4.4" stroke="#111" stroke-width="0.75"/>
<rect x="550.42" y="320.74" width="4.6" height="4.0" rx="1.2" fill="none" stroke="#111" stroke-width="1.3"/>
<path d="M551.52 323.04h2.4" stroke="#111" stroke-width="0.6"/>
<rect x="550.12" y="299.38" width="5.2" height="4.8" rx="2" fill="none" stroke="#ff8010" stroke-width="1.3"/>
<rect x="551.12" y="300.48" width="3.2" height="2.6" fill="none" stroke="#111" stroke-width="0.8"/>
<rect x="563.11" y="316.49" width="4.6" height="4.0" rx="1.2" fill="none" stroke="#111" stroke-width="1.3"/>
<path d="M564.21 318.79h2.4" stroke="#111" stroke-width="0.6"/>
<rect x="562.81" y="290.87" width="5.2" height="4.8" rx="2" fill="none" stroke="#ff8010" stroke-width="1.3"/>
<rect x="563.81" y="291.97" width="3.2" height="2.6" fill="none" stroke="#111" stroke-width="0.8"/>
<rect x="575.79" y="312.23" width="4.6" height="4.0" rx="1.2" fill="none" stroke="#111" stroke-width="1.3"/>
<path d="M576.89 314.53h2.4" stroke="#111" stroke-width="0.6"/>
<rect x="575.49" y="282.67" width="5.2" height="4.8" rx="2" fill="none" stroke="#ff8010" stroke-width="1.3"/>
<rect x="576.49" y="283.77" width="3.2" height="2.6" fill="none" stroke="#111" stroke-width="0.8"/>
<rect x="588.48" y="308.13" width="4.6" height="4.0" rx="1.2" fill="none" stroke="#111" stroke-width="1.3"/>
<path d="M589.58 310.43h2.4" stroke="#111" stroke-width="0.6"/>
<rect x="588.18" y="274.17" width="5.2" height="4.8" rx="2" fill="none" stroke="#ff8010" stroke-width="1.3"/>
<rect x="589.18" y="275.27" width="3.2" height="2.6" fill="none" stroke="#111" stroke-width="0.8"/>
<rect x="601.16" y="303.88" width="4.6" height="4.0" rx="1.2" fill="none" stroke="#111" stroke-width="1.3"/>
<path d="M602.26 306.18h2.4" stroke="#111" stroke-width="0.6"/>
<rect x="600.86" y="265.66" width="5.2" height="4.8" rx="2" fill="none" stroke="#ff8010" stroke-width="1.3"/>
<rect x="601.86" y="266.76" width="3.2" height="2.6" fill="none" stroke="#111" stroke-width="0.8"/>
<rect x="613.85" y="299.63" width="4.6" height="4.0" rx="1.2" fill="none" stroke="#111" stroke-width="1.3"/>
<path d="M614.95 301.93h2.4" stroke="#111" stroke-width="0.6"/>
<rect x="613.55" y="257.15" width="5.2" height="4.8" rx="2" fill="none" stroke="#ff8010" stroke-width="1.3"/>
<rect x="614.55" y="258.25" width="3.2" height="2.6" fill="none" stroke="#111" stroke-width="0.8"/>
<rect x="626.53" y="295.37" width="4.6" height="4.0" rx="1.2" fill="none" stroke="#111" stroke-width="1.3"/>
<path d="M627.63 297.67h2.4" stroke="#111" stroke-width="0.6"/>
<rect x="626.23" y="248.65" width="5.2" height="4.8" rx="2" fill="none" stroke="#ff8010" stroke-width="1.3"/>
<rect x="627.23" y="249.75" width="3.2" height="2.6" fill="none" stroke="#111" stroke-width="0.8"/>
<rect x="639.22" y="291.27" width="4.6" height="4.0" rx="1.2" fill="none" stroke="#111" stroke-width="1.3"/>
<path d="M640.32 293.57h2.4" stroke="#111" stroke-width="0.6"/>
<rect x="638.92" y="240.29" width="5.2" height="4.8" rx="2" fill="none" stroke="#ff8010" stroke-width="1.3"/>
<rect x="639.92" y="241.39" width="3.2" height="2.6" fill="none" stroke="#111" stroke-width="0.8"/>
<defs><radialGradient id="bg" cx="0.38" cy="0.32" r="0.7"><stop offset="0" stop-color="#f0f6ff"/><stop offset="0.22" stop-color="#6aa0f8"/><stop offset="0.5" stop-color="#2f74ec"/><stop offset="1" stop-color="#1a4cc0"/></radialGradient></defs>
<path d="M502.00 220.30 L514.60 220.50 L527.10 221.10 L540.00 218.80 L552.50 220.20 L565.10 223.80 L578.00 218.40 L590.40 217.80 L603.30 218.40 L616.00 219.60 L628.40 222.50 L641.10 221.80" stroke="#3a7ae8" stroke-width="1.0" fill="none" stroke-linejoin="round" stroke-linecap="round" />
<circle cx="502.00" cy="220.30" r="2.9" fill="url(#bg)"/>
<circle cx="514.60" cy="220.50" r="2.9" fill="url(#bg)"/>
<circle cx="527.10" cy="221.10" r="2.9" fill="url(#bg)"/>
<circle cx="540.00" cy="218.80" r="2.9" fill="url(#bg)"/>
<circle cx="552.50" cy="220.20" r="2.9" fill="url(#bg)"/>
<circle cx="565.10" cy="223.80" r="2.9" fill="url(#bg)"/>
<circle cx="578.00" cy="218.40" r="2.9" fill="url(#bg)"/>
<circle cx="590.40" cy="217.80" r="2.9" fill="url(#bg)"/>
<circle cx="603.30" cy="218.40" r="2.9" fill="url(#bg)"/>
<circle cx="616.00" cy="219.60" r="2.9" fill="url(#bg)"/>
<circle cx="628.40" cy="222.50" r="2.9" fill="url(#bg)"/>
<circle cx="641.10" cy="221.80" r="2.9" fill="url(#bg)"/>
<ellipse cx="641.1" cy="221.8" rx="6.9" ry="12" fill="none" stroke="#f5b000" stroke-width="1.3" stroke-dasharray="3 1.8"/>
<path d="M646.8 214.8V213.9H661" stroke="#f5b000" stroke-width="1.6" fill="none"/>
<path d="M660 210.6L668.2 213.9L660 217.2Z" fill="#f5b000"/>
<path d="M494.7 243.1H513.4" stroke="#ff8010" stroke-width="1.6" stroke-dasharray="6.4 3.2 0.9 3.2"/>
<text x="519.00" y="246.60" font-family="Liberation Sans" font-size="9.7" text-anchor="start" fill="#000" >e<tspan font-size="6.4" dy="-3.6">−</tspan><tspan dy="3.6">/2</tspan></text>
<circle cx="546.9" cy="243.3" r="2.3" fill="none" stroke="#ff8010" stroke-width="1.3"/>
<text x="557.80" y="246.60" font-family="Liberation Sans" font-size="9.6" text-anchor="start" fill="#000" >H<tspan font-size="6.6" dy="2.4">2</tspan></text>
<path d="M494.7 258.3H514.5" stroke="#333" stroke-width="1.1" stroke-dasharray="4.1 3 0.9 3.8 0.9 3.4 4.1"/>
<text x="519.00" y="261.60" font-family="Liberation Sans" font-size="9.7" text-anchor="start" fill="#000" >e<tspan font-size="6.4" dy="-3.6">−</tspan><tspan dy="3.6">/4</tspan></text>
<circle cx="546.9" cy="258.3" r="2.3" fill="none" stroke="#333" stroke-width="1.1"/>
<text x="557.80" y="261.60" font-family="Liberation Sans" font-size="9.6" text-anchor="start" fill="#000" >O<tspan font-size="6.6" dy="2.4">2</tspan></text>
<text x="573.80" y="336.90" font-family="Liberation Sans" font-size="9.67" text-anchor="start" fill="#ff8010" >Pt-Ti/FM/PbS-QD</text>
<text x="571.75" y="365.70" font-family="Liberation Sans" font-size="10.7" text-anchor="middle" fill="#000" >Time (min)</text>
<text transform="translate(469.20 276.00) rotate(-90)" x="0" y="0" font-family="Liberation Sans" font-size="10.7" text-anchor="middle" fill="#000">Gas evolution (μmol)</text>
<text transform="translate(675.80 274.00) rotate(90)" x="0" y="0" font-family="Liberation Sans" font-size="10.7" text-anchor="middle" fill="#4a8ae0">H<tspan font-size="7.6" dy="2.6">2</tspan><tspan dy="-2.6"> / O</tspan><tspan font-size="7.6" dy="2.6">2</tspan><tspan dy="-2.6"> ratio</tspan></text>
<text x="-0.8" y="403.6" font-family="Liberation Sans" font-size="15">g</text>
<path d="M33.15 403.00H198.75M33.80 403.00V540.10M33.15 540.10H198.75" stroke="#000" stroke-width="1.3" fill="none"/>
<path d="M198.10 403.65V539.45" stroke="#000" stroke-width="1.3" fill="none"/>
<path d="M33.80 540.10v2.6M61.18 540.10v2.6M88.57 540.10v2.6M115.95 540.10v2.6M143.33 540.10v2.6M170.72 540.10v2.6M198.10 540.10v2.6M47.49 540.10v1.6M74.88 540.10v1.6M102.26 540.10v1.6M129.64 540.10v1.6M157.03 540.10v1.6M184.41 540.10v1.6" stroke="#000" stroke-width="1" fill="none"/>
<text x="33.80" y="550.70" font-family="Liberation Sans" font-size="8.6" text-anchor="middle">0</text>
<text x="61.18" y="550.70" font-family="Liberation Sans" font-size="8.6" text-anchor="middle">4</text>
<text x="88.57" y="550.70" font-family="Liberation Sans" font-size="8.6" text-anchor="middle">8</text>
<text x="115.95" y="550.70" font-family="Liberation Sans" font-size="8.6" text-anchor="middle">12</text>
<text x="143.33" y="550.70" font-family="Liberation Sans" font-size="8.6" text-anchor="middle">16</text>
<text x="170.72" y="550.70" font-family="Liberation Sans" font-size="8.6" text-anchor="middle">20</text>
<text x="198.10" y="550.70" font-family="Liberation Sans" font-size="8.6" text-anchor="middle">24</text>
<path d="M33.80 524.87h-2.5M33.80 494.40h-2.5M33.80 463.93h-2.5M33.80 433.47h-2.5M33.80 403.00h-2.5M33.80 540.10h-1.5M33.80 509.63h-1.5M33.80 479.17h-1.5M33.80 448.70h-1.5M33.80 418.23h-1.5" stroke="#000" stroke-width="1" fill="none"/>
<text x="30.30" y="528.07" font-family="Liberation Sans" font-size="8.6" text-anchor="end">-16</text>
<text x="30.30" y="497.60" font-family="Liberation Sans" font-size="8.6" text-anchor="end">-12</text>
<text x="30.30" y="467.13" font-family="Liberation Sans" font-size="8.6" text-anchor="end">-8</text>
<text x="30.30" y="436.67" font-family="Liberation Sans" font-size="8.6" text-anchor="end">-4</text>
<text x="30.30" y="406.20" font-family="Liberation Sans" font-size="8.6" text-anchor="end">0</text>
<path d="M33.90 519.76 L34.40 519.82 L34.90 519.49 L35.40 519.42 L35.90 518.97 L36.39 518.98 L36.89 519.19 L37.39 518.87 L37.89 519.09 L38.39 519.05 L38.89 519.00 L39.39 518.99 L39.89 518.96 L40.38 518.95 L40.88 518.83 L41.38 518.86 L41.88 519.20 L42.38 518.97 L42.88 518.89 L43.38 518.86 L43.88 518.72 L44.37 518.83 L44.87 518.77 L45.37 518.91 L45.87 518.69 L46.37 518.52 L46.87 518.73 L47.37 518.88 L47.87 519.10 L48.36 518.92 L48.86 518.68 L49.36 518.77 L49.86 518.69 L50.36 518.78 L50.86 518.69 L51.36 518.60 L51.86 518.85 L52.36 518.82 L52.85 518.78 L53.35 518.84 L53.85 519.04 L54.35 518.81 L54.85 518.75 L55.35 518.90 L55.85 518.60 L56.35 518.89 L56.84 518.71 L57.34 518.70 L57.84 518.81 L58.34 519.00 L58.84 518.71 L59.34 518.91 L59.84 518.85 L60.34 518.67 L60.83 519.10 L61.33 519.11 L61.83 519.25 L62.33 519.48 L62.83 519.55 L63.33 519.75 L63.83 519.63 L64.33 519.94 L64.82 519.82 L65.32 519.74 L65.82 519.75 L66.32 519.90 L66.82 519.65 L67.32 519.65 L67.82 519.83 L68.32 520.02 L68.81 519.99 L69.31 519.98 L69.81 519.97 L70.31 519.75 L70.81 519.98 L71.31 519.83 L71.81 520.15 L72.31 520.07 L72.81 520.07 L73.30 520.14 L73.80 520.15 L74.30 520.15 L74.80 520.18 L75.30 520.08 L75.80 520.00 L76.30 520.22 L76.80 520.36 L77.29 520.32 L77.79 520.19 L78.29 520.30 L78.79 520.19 L79.29 520.30 L79.79 520.19 L80.29 520.29 L80.79 520.53 L81.28 520.39 L81.78 520.49 L82.28 520.23 L82.78 520.25 L83.28 520.34 L83.78 520.42 L84.28 520.34 L84.78 520.50 L85.27 520.32 L85.77 520.56 L86.27 520.53 L86.77 520.28 L87.27 520.50 L87.77 520.41 L88.27 520.57 L88.77 520.39 L89.27 520.50 L89.76 520.54 L90.26 520.15 L90.76 520.26 L91.26 520.51 L91.76 520.49 L92.26 520.63 L92.76 520.54 L93.26 520.37 L93.75 520.57 L94.25 520.45 L94.75 520.51 L95.25 520.49 L95.75 520.60 L96.25 520.39 L96.75 520.43 L97.25 520.30 L97.74 520.83 L98.24 520.46 L98.74 520.48 L99.24 520.44 L99.74 520.51 L100.24 520.54 L100.74 520.67 L101.24 520.61 L101.73 520.63 L102.23 520.53 L102.73 520.59 L103.23 520.75 L103.73 520.60 L104.23 520.64 L104.73 520.36 L105.23 520.66 L105.72 520.63 L106.22 520.75 L106.72 520.27 L107.22 520.60 L107.72 520.58 L108.22 520.60 L108.72 520.52 L109.22 520.61 L109.72 520.67 L110.21 520.59 L110.71 520.55 L111.21 520.56 L111.71 520.53 L112.21 520.58 L112.71 520.49 L113.21 520.33 L113.71 520.73 L114.20 520.35 L114.70 520.55 L115.20 520.40 L115.70 520.52 L116.20 520.44 L116.70 520.54 L117.20 520.45 L117.70 520.39 L118.19 520.58 L118.69 520.70 L119.19 520.58 L119.69 520.54 L120.19 520.40 L120.69 520.52 L121.19 520.58 L121.69 520.44 L122.18 520.63 L122.68 520.51 L123.18 520.56 L123.68 520.45 L124.18 520.45 L124.68 520.53 L125.18 520.55 L125.68 520.54 L126.18 520.38 L126.67 520.41 L127.17 520.50 L127.67 520.27 L128.17 520.62 L128.67 520.53 L129.17 520.50 L129.67 520.41 L130.17 520.59 L130.66 520.46 L131.16 520.72 L131.66 520.54 L132.16 520.32 L132.66 520.58 L133.16 520.43 L133.66 520.43 L134.16 520.47 L134.65 520.48 L135.15 520.53 L135.65 520.59 L136.15 520.56 L136.65 520.42 L137.15 520.34 L137.65 520.41 L138.15 520.55 L138.64 520.61 L139.14 520.73 L139.64 520.35 L140.14 520.53 L140.64 520.49 L141.14 520.47 L141.64 520.54 L142.14 520.49 L142.63 520.49 L143.13 520.45 L143.63 520.58 L144.13 520.66 L144.63 520.73 L145.13 520.48 L145.63 520.42 L146.13 520.51 L146.63 520.45 L147.12 520.67 L147.62 520.45 L148.12 520.56 L148.62 520.40 L149.12 520.52 L149.62 520.59 L150.12 520.75 L150.62 520.49 L151.11 520.62 L151.61 520.33 L152.11 520.44 L152.61 520.49 L153.11 520.53 L153.61 520.64 L154.11 520.67 L154.61 520.40 L155.10 520.66 L155.60 520.47 L156.10 520.83 L156.60 520.65 L157.10 520.64 L157.60 520.60 L158.10 520.63 L158.60 520.64 L159.09 520.56 L159.59 520.74 L160.09 520.69 L160.59 520.76 L161.09 520.67 L161.59 520.76 L162.09 520.60 L162.59 521.13 L163.09 520.62 L163.58 520.66 L164.08 520.84 L164.58 520.88 L165.08 520.64 L165.58 520.55 L166.08 520.59 L166.58 520.65 L167.08 520.68 L167.57 520.76 L168.07 520.91 L168.57 520.93 L169.07 520.73 L169.57 520.88 L170.07 520.93 L170.57 521.00 L171.07 520.82 L171.56 520.76 L172.06 520.94 L172.56 521.04 L173.06 520.80 L173.56 521.11 L174.06 521.09 L174.56 520.86 L175.06 520.70 L175.55 520.83 L176.05 520.86 L176.55 520.97 L177.05 520.72 L177.55 521.21 L178.05 521.21 L178.55 520.85 L179.05 520.72 L179.54 520.93 L180.04 521.00 L180.54 521.12 L181.04 521.05 L181.54 520.95 L182.04 520.74 L182.54 521.05 L183.04 521.09 L183.54 520.96 L184.03 521.04 L184.53 521.03 L185.03 520.99 L185.53 520.88 L186.03 521.07 L186.53 520.86 L187.03 521.20 L187.53 520.93 L188.02 521.11 L188.52 520.96 L189.02 521.10 L189.52 521.03 L190.02 521.13 L190.52 520.97 L191.02 520.88 L191.52 521.04 L192.01 521.04 L192.51 520.90 L193.01 521.00 L193.51 520.88 L194.01 521.10 L194.51 521.04 L195.01 521.09 L195.51 521.40 L196.00 521.11 L196.50 521.14 L197.00 521.17 L197.50 521.07 L198.00 521.02" stroke="#ff8010" stroke-width="1.6" fill="none" stroke-linejoin="round" stroke-linecap="round" />
<path d="M38.7 412.6H57.2" stroke="#ff8010" stroke-width="1.7"/>
<text x="60.60" y="415.70" font-family="Liberation Sans" font-size="8.62" text-anchor="start" fill="#ff8010" >Pt-Ti/FM/PbS-QD</text>
<text x="128.90" y="515.20" font-family="Liberation Sans" font-size="8.7" text-anchor="start" fill="#000" >UV + Vis (1 sun)</text>
<text x="115.85" y="565.30" font-family="Liberation Sans" font-size="10.7" text-anchor="middle" fill="#000" >Time (h)</text>
<text transform="translate(11.60 472.00) rotate(-90)" x="0" y="0" font-family="Liberation Sans" font-size="10.7" text-anchor="middle" fill="#000"><tspan font-style="italic">J</tspan><tspan font-size="7.8" dx="0.2" dy="2.1">ph</tspan><tspan dy="-2.1"> (mA cm</tspan><tspan font-size="7.6" dy="-4">−2</tspan><tspan dy="4">)</tspan></text>
<text x="227.4" y="404.4" font-family="Liberation Sans" font-size="15">h</text>
<path d="M260.45 403.00H426.35M261.10 403.00V540.00M260.45 540.00H426.35" stroke="#000" stroke-width="1.3" fill="none"/>
<path d="M425.70 403.65V539.35" stroke="#000" stroke-width="1.3" fill="none"/>
<path d="M273.76 540.00v2.6M299.08 540.00v2.6M324.41 540.00v2.6M349.73 540.00v2.6M375.05 540.00v2.6M400.38 540.00v2.6M425.70 540.00v2.6M261.10 540.00v1.6M286.42 540.00v1.6M311.75 540.00v1.6M337.07 540.00v1.6M362.39 540.00v1.6M387.72 540.00v1.6M413.04 540.00v1.6" stroke="#000" stroke-width="1" fill="none"/>
<text x="273.76" y="550.60" font-family="Liberation Sans" font-size="8.6" text-anchor="middle">400</text>
<text x="299.08" y="550.60" font-family="Liberation Sans" font-size="8.6" text-anchor="middle">500</text>
<text x="324.41" y="550.60" font-family="Liberation Sans" font-size="8.6" text-anchor="middle">600</text>
<text x="349.73" y="550.60" font-family="Liberation Sans" font-size="8.6" text-anchor="middle">700</text>
<text x="375.05" y="550.60" font-family="Liberation Sans" font-size="8.6" text-anchor="middle">800</text>
<text x="400.38" y="550.60" font-family="Liberation Sans" font-size="8.6" text-anchor="middle">900</text>
<text x="425.70" y="550.60" font-family="Liberation Sans" font-size="8.6" text-anchor="middle">1000</text>
<path d="M261.10 540.00h-2.5M261.10 512.60h-2.5M261.10 485.20h-2.5M261.10 457.80h-2.5M261.10 430.40h-2.5M261.10 403.00h-2.5M261.10 526.30h-1.5M261.10 498.90h-1.5M261.10 471.50h-1.5M261.10 444.10h-1.5M261.10 416.70h-1.5" stroke="#000" stroke-width="1" fill="none"/>
<text x="257.60" y="543.20" font-family="Liberation Sans" font-size="8.6" text-anchor="end">0.0</text>
<text x="257.60" y="515.80" font-family="Liberation Sans" font-size="8.6" text-anchor="end">0.2</text>
<text x="257.60" y="488.40" font-family="Liberation Sans" font-size="8.6" text-anchor="end">0.4</text>
<text x="257.60" y="461.00" font-family="Liberation Sans" font-size="8.6" text-anchor="end">0.6</text>
<text x="257.60" y="433.60" font-family="Liberation Sans" font-size="8.6" text-anchor="end">0.8</text>
<text x="257.60" y="406.20" font-family="Liberation Sans" font-size="8.6" text-anchor="end">1.0</text>
<path d="M261.60 431.09 L262.60 435.62 L264.60 447.85 L265.50 436.47 L268.10 422.96 L269.90 429.12 L273.40 422.26 L277.80 419.89 L281.00 418.88 L284.90 414.96 L286.50 417.24 L288.40 415.64 L291.00 420.94 L294.50 417.85 L299.00 420.53 L302.50 416.80 L307.70 419.33 L311.30 417.93 L316.50 420.99 L320.10 418.15 L327.10 421.71 L334.20 421.30 L340.00 423.04 L345.30 422.42 L352.30 423.99 L357.60 428.04 L361.10 425.21 L364.60 426.02 L368.20 424.12 L372.60 427.08 L376.10 425.77 L382.30 429.39 L387.50 430.48 L392.80 437.79 L395.50 445.60 L399.00 455.39 L402.50 470.24 L405.70 482.89 L409.20 501.46 L412.70 511.33 L415.30 521.09 L418.80 528.42 L420.40 529.22 L421.40 532.03 L422.40 530.10 L423.20 534.61 L424.40 532.46 L425.10 537.41 L425.90 536.78" stroke="#ff8a1a" stroke-width="1.9" fill="none" stroke-linejoin="round" stroke-linecap="round" />
<path d="M261.60 430.80 L262.60 436.00 L263.70 448.40 L265.50 438.00 L268.10 423.70 L269.90 429.90 L273.40 422.90 L277.80 420.80 L281.00 419.50 L284.90 415.80 L286.50 418.50 L288.40 415.80 L291.00 421.10 L294.50 417.60 L299.00 421.10 L302.50 417.60 L307.70 420.20 L311.30 419.30 L316.50 421.10 L320.10 419.30 L327.10 422.90 L334.20 422.00 L340.00 422.90 L345.30 422.90 L352.30 425.10 L357.60 429.00 L361.10 425.50 L364.60 426.70 L368.20 425.10 L372.60 427.80 L376.10 426.00 L382.30 429.00 L387.50 431.70 L392.80 438.70 L394.12 440.68 L393.56 442.65 L393.91 444.62 L394.60 446.60 L394.15 449.25 L396.35 451.90 L397.07 454.55 L398.10 457.20 L398.71 460.73 L400.01 464.25 L400.94 467.77 L401.60 471.30 L401.87 474.48 L402.76 477.65 L403.76 480.82 L404.80 484.00 L406.02 488.38 L406.83 492.75 L406.77 497.12 L408.30 501.50 L408.62 504.12 L410.42 506.75 L411.71 509.38 L411.80 512.00 L412.43 514.62 L412.76 517.25 L414.30 519.88 L414.40 522.50 L415.12 524.05 L416.51 525.60 L417.80 527.15 L417.90 528.70 L418.62 529.03 L418.74 529.35 L419.47 529.67 L419.50 530.00 L419.43 530.88 L419.91 531.75 L419.96 532.62 L420.50 533.50 L420.65 532.88 L420.76 532.25 L421.16 531.62 L421.50 531.00 L421.51 532.12 L421.94 533.25 L422.13 534.38 L422.30 535.50 L422.75 535.00 L423.60 534.50 L422.43 534.00 L423.50 533.50 L424.32 534.62 L423.73 535.75 L423.41 536.88 L424.20 538.00 L424.31 538.12 L424.65 538.25 L425.33 538.38 L425.00 538.50" stroke="#8a10ff" stroke-width="1.9" fill="none" stroke-linejoin="round" stroke-linecap="round" />
<path d="M267.6 515.9H288.4" stroke="#ff8a1a" stroke-width="1.7"/>
<text x="291.90" y="519.20" font-family="Liberation Sans" font-size="9.53" text-anchor="start" fill="#ff8a1a" >Before test</text>
<path d="M267.6 527.4H288.4" stroke="#8a10ff" stroke-width="1.7"/>
<text x="291.90" y="530.70" font-family="Liberation Sans" font-size="9.53" text-anchor="start" fill="#8a10ff" >After test</text>
<text x="343.40" y="564.00" font-family="Liberation Sans" font-size="10.7" text-anchor="middle" fill="#000" >Wavelength (nm)</text>
<text transform="translate(241.40 472.40) rotate(-90)" x="0" y="0" font-family="Liberation Sans" font-size="10.7" text-anchor="middle" fill="#000">Absorbance</text>
<text x="461.0" y="404.4" font-family="Liberation Sans" font-size="15">i</text>
<path d="M488.65 403.00H655.05M489.30 403.00V539.80M488.65 539.80H655.05" stroke="#000" stroke-width="1.3" fill="none"/>
<path d="M654.40 403.65V539.15" stroke="#000" stroke-width="1.3" fill="none"/>
<path d="M489.30 539.80v2.6M514.49 539.80v2.6M539.67 539.80v2.6M564.86 539.80v2.6M590.05 539.80v2.6M615.23 539.80v2.6M640.42 539.80v2.6M501.89 539.80v1.6M527.08 539.80v1.6M552.27 539.80v1.6M577.45 539.80v1.6M602.64 539.80v1.6M627.83 539.80v1.6M653.01 539.80v1.6" stroke="#000" stroke-width="1" fill="none"/>
<text x="489.30" y="550.40" font-family="Liberation Sans" font-size="8.6" text-anchor="middle">300</text>
<text x="514.49" y="550.40" font-family="Liberation Sans" font-size="8.6" text-anchor="middle">400</text>
<text x="539.67" y="550.40" font-family="Liberation Sans" font-size="8.6" text-anchor="middle">500</text>
<text x="564.86" y="550.40" font-family="Liberation Sans" font-size="8.6" text-anchor="middle">600</text>
<text x="590.05" y="550.40" font-family="Liberation Sans" font-size="8.6" text-anchor="middle">700</text>
<text x="615.23" y="550.40" font-family="Liberation Sans" font-size="8.6" text-anchor="middle">800</text>
<text x="640.42" y="550.40" font-family="Liberation Sans" font-size="8.6" text-anchor="middle">900</text>
<path d="M489.30 539.80h-2.5M489.30 512.44h-2.5M489.30 485.08h-2.5M489.30 457.72h-2.5M489.30 430.36h-2.5M489.30 403.00h-2.5M489.30 526.12h-1.5M489.30 498.76h-1.5M489.30 471.40h-1.5M489.30 444.04h-1.5M489.30 416.68h-1.5" stroke="#000" stroke-width="1" fill="none"/>
<text x="485.80" y="543.00" font-family="Liberation Sans" font-size="8.6" text-anchor="end">0</text>
<text x="485.80" y="515.64" font-family="Liberation Sans" font-size="8.6" text-anchor="end">20</text>
<text x="485.80" y="488.28" font-family="Liberation Sans" font-size="8.6" text-anchor="end">40</text>
<text x="485.80" y="460.92" font-family="Liberation Sans" font-size="8.6" text-anchor="end">60</text>
<text x="485.80" y="433.56" font-family="Liberation Sans" font-size="8.6" text-anchor="end">80</text>
<text x="485.80" y="406.20" font-family="Liberation Sans" font-size="8.6" text-anchor="end">100</text>
<path d="M489.50 531.60 L494.54 499.80 L499.58 488.90 L504.62 480.20 L509.66 464.20 L514.70 439.60 L519.74 437.80 L524.78 418.50 L529.82 426.40 L534.86 427.30 L539.90 428.70 L544.94 424.60 L549.98 431.10 L555.02 436.40 L560.06 437.80 L565.10 443.10 L570.14 444.50 L575.18 444.50 L580.22 438.70 L585.26 445.70 L590.30 453.70 L595.34 452.80 L600.38 455.40 L605.42 460.70 L610.46 468.60 L615.50 480.90 L620.54 494.50 L625.58 496.30 L630.62 492.20 L635.66 496.60 L640.70 495.40 L645.74 504.20 L650.78 505.00" stroke="#ff8010" stroke-width="1.2" fill="none" stroke-linejoin="round" stroke-linecap="round" />
<circle cx="489.50" cy="531.60" r="2.9" fill="#ff8010"/>
<circle cx="494.54" cy="499.80" r="2.9" fill="#ff8010"/>
<circle cx="499.58" cy="488.90" r="2.9" fill="#ff8010"/>
<circle cx="504.62" cy="480.20" r="2.9" fill="#ff8010"/>
<circle cx="509.66" cy="464.20" r="2.9" fill="#ff8010"/>
<circle cx="514.70" cy="439.60" r="2.9" fill="#ff8010"/>
<circle cx="519.74" cy="437.80" r="2.9" fill="#ff8010"/>
<circle cx="524.78" cy="418.50" r="2.9" fill="#ff8010"/>
<circle cx="529.82" cy="426.40" r="2.9" fill="#ff8010"/>
<circle cx="534.86" cy="427.30" r="2.9" fill="#ff8010"/>
<circle cx="539.90" cy="428.70" r="2.9" fill="#ff8010"/>
<circle cx="544.94" cy="424.60" r="2.9" fill="#ff8010"/>
<circle cx="549.98" cy="431.10" r="2.9" fill="#ff8010"/>
<circle cx="555.02" cy="436.40" r="2.9" fill="#ff8010"/>
<circle cx="560.06" cy="437.80" r="2.9" fill="#ff8010"/>
<circle cx="565.10" cy="443.10" r="2.9" fill="#ff8010"/>
<circle cx="570.14" cy="444.50" r="2.9" fill="#ff8010"/>
<circle cx="575.18" cy="444.50" r="2.9" fill="#ff8010"/>
<circle cx="580.22" cy="438.70" r="2.9" fill="#ff8010"/>
<circle cx="585.26" cy="445.70" r="2.9" fill="#ff8010"/>
<circle cx="590.30" cy="453.70" r="2.9" fill="#ff8010"/>
<circle cx="595.34" cy="452.80" r="2.9" fill="#ff8010"/>
<circle cx="600.38" cy="455.40" r="2.9" fill="#ff8010"/>
<circle cx="605.42" cy="460.70" r="2.9" fill="#ff8010"/>
<circle cx="610.46" cy="468.60" r="2.9" fill="#ff8010"/>
<circle cx="615.50" cy="480.90" r="2.9" fill="#ff8010"/>
<circle cx="620.54" cy="494.50" r="2.9" fill="#ff8010"/>
<circle cx="625.58" cy="496.30" r="2.9" fill="#ff8010"/>
<circle cx="630.62" cy="492.20" r="2.9" fill="#ff8010"/>
<circle cx="635.66" cy="496.60" r="2.9" fill="#ff8010"/>
<circle cx="640.70" cy="495.40" r="2.9" fill="#ff8010"/>
<circle cx="645.74" cy="504.20" r="2.9" fill="#ff8010"/>
<circle cx="650.78" cy="505.00" r="2.9" fill="#ff8010"/>
<path d="M489.50 528.30 L494.54 503.30 L499.58 494.20 L504.62 482.30 L509.66 465.60 L514.70 441.00 L519.74 437.80 L524.78 425.10 L529.82 431.70 L534.86 419.30 L539.90 426.00 L544.94 425.80 L549.98 428.10 L555.02 431.70 L560.06 434.80 L565.10 438.70 L570.14 439.20 L575.18 433.90 L580.22 432.20 L585.26 446.60 L590.30 455.10 L595.34 454.90 L600.38 457.20 L605.42 461.20 L610.46 473.30 L615.50 482.30 L620.54 498.00 L625.58 500.30 L630.62 499.40 L635.66 501.50 L640.70 499.80 L645.74 507.30 L650.78 504.20" stroke="#8a10ff" stroke-width="1.2" fill="none" stroke-linejoin="round" stroke-linecap="round" />
<circle cx="489.50" cy="528.30" r="2.5" fill="#fff" stroke="#8a10ff" stroke-width="1.3"/>
<circle cx="494.54" cy="503.30" r="2.5" fill="#fff" stroke="#8a10ff" stroke-width="1.3"/>
<circle cx="499.58" cy="494.20" r="2.5" fill="#fff" stroke="#8a10ff" stroke-width="1.3"/>
<circle cx="504.62" cy="482.30" r="2.5" fill="#fff" stroke="#8a10ff" stroke-width="1.3"/>
<circle cx="509.66" cy="465.60" r="2.5" fill="#fff" stroke="#8a10ff" stroke-width="1.3"/>
<circle cx="514.70" cy="441.00" r="2.5" fill="#fff" stroke="#8a10ff" stroke-width="1.3"/>
<circle cx="519.74" cy="437.80" r="2.5" fill="#fff" stroke="#8a10ff" stroke-width="1.3"/>
<circle cx="524.78" cy="425.10" r="2.5" fill="#fff" stroke="#8a10ff" stroke-width="1.3"/>
<circle cx="529.82" cy="431.70" r="2.5" fill="#fff" stroke="#8a10ff" stroke-width="1.3"/>
<circle cx="534.86" cy="419.30" r="2.5" fill="#fff" stroke="#8a10ff" stroke-width="1.3"/>
<circle cx="539.90" cy="426.00" r="2.5" fill="#fff" stroke="#8a10ff" stroke-width="1.3"/>
<circle cx="544.94" cy="425.80" r="2.5" fill="#fff" stroke="#8a10ff" stroke-width="1.3"/>
<circle cx="549.98" cy="428.10" r="2.5" fill="#fff" stroke="#8a10ff" stroke-width="1.3"/>
<circle cx="555.02" cy="431.70" r="2.5" fill="#fff" stroke="#8a10ff" stroke-width="1.3"/>
<circle cx="560.06" cy="434.80" r="2.5" fill="#fff" stroke="#8a10ff" stroke-width="1.3"/>
<circle cx="565.10" cy="438.70" r="2.5" fill="#fff" stroke="#8a10ff" stroke-width="1.3"/>
<circle cx="570.14" cy="439.20" r="2.5" fill="#fff" stroke="#8a10ff" stroke-width="1.3"/>
<circle cx="575.18" cy="433.90" r="2.5" fill="#fff" stroke="#8a10ff" stroke-width="1.3"/>
<circle cx="580.22" cy="432.20" r="2.5" fill="#fff" stroke="#8a10ff" stroke-width="1.3"/>
<circle cx="585.26" cy="446.60" r="2.5" fill="#fff" stroke="#8a10ff" stroke-width="1.3"/>
<circle cx="590.30" cy="455.10" r="2.5" fill="#fff" stroke="#8a10ff" stroke-width="1.3"/>
<circle cx="595.34" cy="454.90" r="2.5" fill="#fff" stroke="#8a10ff" stroke-width="1.3"/>
<circle cx="600.38" cy="457.20" r="2.5" fill="#fff" stroke="#8a10ff" stroke-width="1.3"/>
<circle cx="605.42" cy="461.20" r="2.5" fill="#fff" stroke="#8a10ff" stroke-width="1.3"/>
<circle cx="610.46" cy="473.30" r="2.5" fill="#fff" stroke="#8a10ff" stroke-width="1.3"/>
<circle cx="615.50" cy="482.30" r="2.5" fill="#fff" stroke="#8a10ff" stroke-width="1.3"/>
<circle cx="620.54" cy="498.00" r="2.5" fill="#fff" stroke="#8a10ff" stroke-width="1.3"/>
<circle cx="625.58" cy="500.30" r="2.5" fill="#fff" stroke="#8a10ff" stroke-width="1.3"/>
<circle cx="630.62" cy="499.40" r="2.5" fill="#fff" stroke="#8a10ff" stroke-width="1.3"/>
<circle cx="635.66" cy="501.50" r="2.5" fill="#fff" stroke="#8a10ff" stroke-width="1.3"/>
<circle cx="640.70" cy="499.80" r="2.5" fill="#fff" stroke="#8a10ff" stroke-width="1.3"/>
<circle cx="645.74" cy="507.30" r="2.5" fill="#fff" stroke="#8a10ff" stroke-width="1.3"/>
<circle cx="650.78" cy="504.20" r="2.5" fill="#fff" stroke="#8a10ff" stroke-width="1.3"/>
<path d="M563.6 518.7H584.3" stroke="#ff8010" stroke-width="1.2"/><circle cx="574.1" cy="518.7" r="2.9" fill="#ff8010"/>
<path d="M563.6 530.4H584.3" stroke="#8a10ff" stroke-width="1.2"/><circle cx="574.1" cy="530.4" r="2.5" fill="#fff" stroke="#8a10ff" stroke-width="1.3"/>
<text x="587.80" y="522.00" font-family="Liberation Sans" font-size="9.53" text-anchor="start" fill="#ff8010" >Before test</text>
<text x="587.80" y="533.70" font-family="Liberation Sans" font-size="9.53" text-anchor="start" fill="#555" >After test</text>
<text x="571.85" y="564.00" font-family="Liberation Sans" font-size="10.7" text-anchor="middle" fill="#000" >Wavelength (nm)</text>
<text transform="translate(470.40 470.40) rotate(-90)" x="0" y="0" font-family="Liberation Sans" font-size="10.7" text-anchor="middle" fill="#000">IPCE (%)</text></svg></body></html>
